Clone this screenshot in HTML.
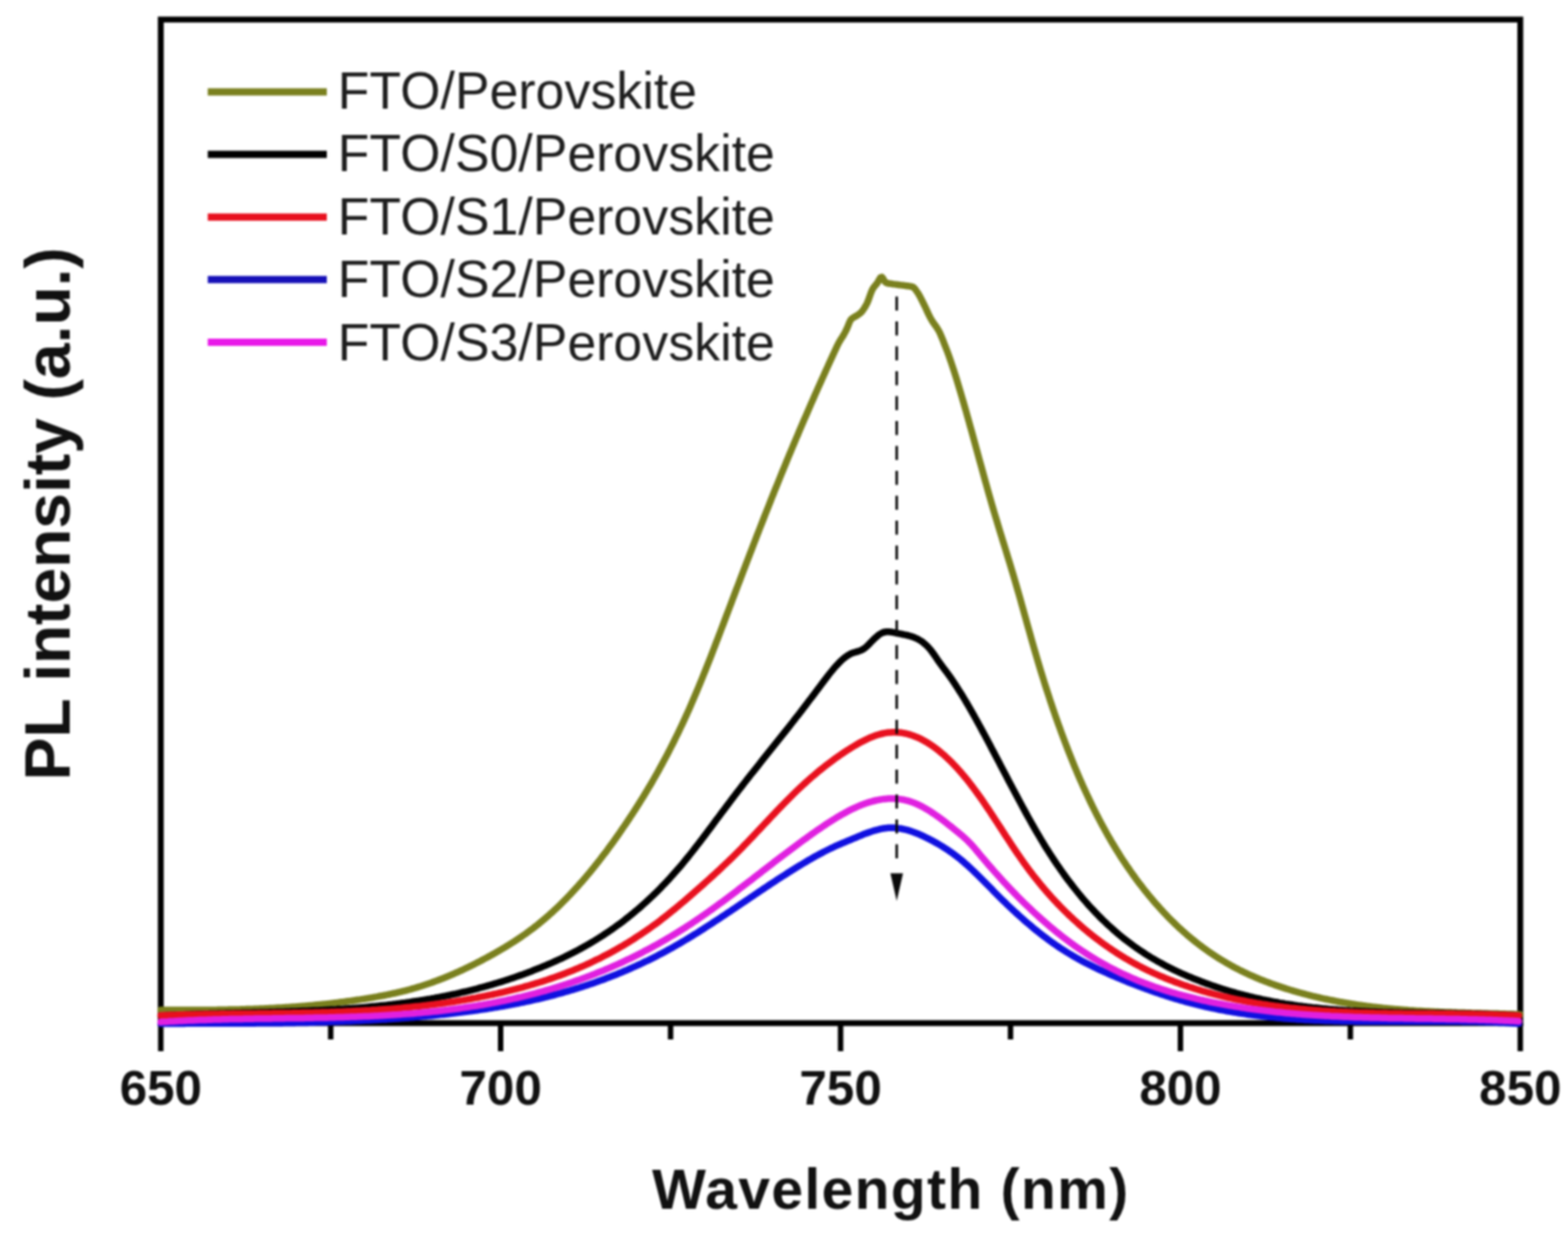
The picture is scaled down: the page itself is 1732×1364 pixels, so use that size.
<!DOCTYPE html>
<html><head><meta charset="utf-8"><title>PL spectra</title>
<style>
html,body{margin:0;padding:0;background:#fff;}
body{width:1732px;height:1364px;overflow:hidden;}
svg{display:block;filter:blur(0.8px);}
.lab{font-family:"Liberation Sans",Arial,sans-serif;font-weight:bold;}
.leg{font-family:"Liberation Sans",Arial,sans-serif;font-weight:normal;}
</style></head>
<body>
<svg width="1732" height="1364" viewBox="0 0 1732 1364">
<rect x="0" y="0" width="1732" height="1364" fill="#fff"/>
<g stroke="#000" stroke-width="6.5" fill="none">
<rect x="177.6" y="21.6" width="1501.7" height="1108.4"/>
</g>
<g stroke="#000" stroke-width="6" stroke-linecap="butt">
<line x1="177.6" y1="1130.0" x2="177.6" y2="1161" />
<line x1="553.0" y1="1130.0" x2="553.0" y2="1161" />
<line x1="928.5" y1="1130.0" x2="928.5" y2="1161" />
<line x1="1303.9" y1="1130.0" x2="1303.9" y2="1161" />
<line x1="1679.3" y1="1130.0" x2="1679.3" y2="1161" />
<line x1="365.3" y1="1130.0" x2="365.3" y2="1148" />
<line x1="740.7" y1="1130.0" x2="740.7" y2="1148" />
<line x1="1116.2" y1="1130.0" x2="1116.2" y2="1148" />
<line x1="1491.6" y1="1130.0" x2="1491.6" y2="1148" />
</g>
<g>
<path d="M177.6,1115.5 L179.1,1115.5 L180.6,1115.5 L182.1,1115.5 L183.6,1115.5 L185.1,1115.5 L186.6,1115.5 L188.1,1115.5 L189.6,1115.6 L191.1,1115.6 L192.6,1115.6 L194.1,1115.6 L195.6,1115.6 L197.1,1115.6 L198.6,1115.6 L200.1,1115.6 L201.6,1115.6 L203.1,1115.6 L204.6,1115.6 L206.1,1115.6 L207.6,1115.6 L209.1,1115.6 L210.6,1115.6 L212.1,1115.6 L213.6,1115.6 L215.1,1115.5 L216.6,1115.5 L218.1,1115.5 L219.6,1115.5 L221.1,1115.5 L222.6,1115.5 L224.1,1115.5 L225.6,1115.5 L227.1,1115.5 L228.6,1115.5 L230.1,1115.5 L231.6,1115.4 L233.1,1115.4 L234.6,1115.4 L236.1,1115.4 L237.6,1115.4 L239.1,1115.4 L240.6,1115.3 L242.1,1115.3 L243.6,1115.3 L245.1,1115.3 L246.6,1115.2 L248.1,1115.2 L249.6,1115.2 L251.1,1115.2 L252.6,1115.1 L254.1,1115.1 L255.6,1115.1 L257.1,1115.0 L258.6,1115.0 L260.1,1115.0 L261.6,1114.9 L263.1,1114.9 L264.6,1114.9 L266.1,1114.8 L267.6,1114.8 L269.1,1114.7 L270.6,1114.7 L272.1,1114.6 L273.6,1114.6 L275.1,1114.5 L276.6,1114.5 L278.1,1114.4 L279.6,1114.4 L281.1,1114.3 L282.6,1114.3 L284.1,1114.2 L285.6,1114.2 L287.1,1114.1 L288.6,1114.0 L290.1,1114.0 L291.6,1113.9 L293.1,1113.8 L294.6,1113.8 L296.1,1113.7 L297.6,1113.6 L299.1,1113.5 L300.6,1113.5 L302.1,1113.4 L303.6,1113.3 L305.1,1113.2 L306.6,1113.1 L308.1,1113.1 L309.6,1113.0 L311.1,1112.9 L312.6,1112.8 L314.1,1112.7 L315.6,1112.6 L317.1,1112.5 L318.6,1112.4 L320.1,1112.3 L321.6,1112.2 L323.1,1112.1 L324.6,1112.0 L326.1,1111.9 L327.6,1111.8 L329.1,1111.7 L330.6,1111.5 L332.1,1111.4 L333.6,1111.3 L335.1,1111.2 L336.6,1111.1 L338.1,1110.9 L339.6,1110.8 L341.1,1110.7 L342.6,1110.5 L344.1,1110.4 L345.6,1110.3 L347.1,1110.1 L348.6,1110.0 L350.1,1109.8 L351.6,1109.7 L353.1,1109.5 L354.6,1109.4 L356.1,1109.2 L357.6,1109.1 L359.1,1108.9 L360.6,1108.8 L362.1,1108.6 L363.6,1108.4 L365.1,1108.3 L366.6,1108.1 L368.1,1107.9 L369.6,1107.7 L371.1,1107.6 L372.6,1107.4 L374.1,1107.2 L375.6,1107.0 L377.1,1106.8 L378.6,1106.6 L380.1,1106.4 L381.6,1106.2 L383.1,1106.0 L384.6,1105.8 L386.1,1105.6 L387.6,1105.4 L389.1,1105.2 L390.6,1105.0 L392.1,1104.8 L393.6,1104.5 L395.1,1104.3 L396.6,1104.1 L398.1,1103.9 L399.6,1103.6 L401.1,1103.4 L402.6,1103.2 L404.1,1102.9 L405.6,1102.7 L407.1,1102.4 L408.6,1102.2 L410.1,1101.9 L411.6,1101.7 L413.1,1101.4 L414.6,1101.1 L416.1,1100.9 L417.6,1100.6 L419.1,1100.3 L420.6,1100.0 L422.1,1099.8 L423.6,1099.5 L425.1,1099.2 L426.6,1098.9 L428.1,1098.6 L429.6,1098.3 L431.1,1098.0 L432.6,1097.6 L434.1,1097.3 L435.6,1097.0 L437.1,1096.7 L438.6,1096.3 L440.1,1096.0 L441.6,1095.6 L443.1,1095.3 L444.6,1094.9 L446.1,1094.5 L447.6,1094.2 L449.1,1093.8 L450.6,1093.4 L452.1,1093.0 L453.6,1092.6 L455.1,1092.1 L456.6,1091.7 L458.1,1091.3 L459.6,1090.8 L461.1,1090.4 L462.6,1089.9 L464.1,1089.5 L465.6,1089.0 L467.1,1088.5 L468.6,1088.0 L470.1,1087.5 L471.6,1087.0 L473.1,1086.5 L474.6,1086.0 L476.1,1085.5 L477.6,1084.9 L479.1,1084.4 L480.6,1083.8 L482.1,1083.3 L483.6,1082.7 L485.1,1082.1 L486.6,1081.6 L488.1,1081.0 L489.6,1080.4 L491.1,1079.8 L492.6,1079.2 L494.1,1078.6 L495.6,1077.9 L497.1,1077.3 L498.6,1076.7 L500.1,1076.0 L501.6,1075.4 L503.1,1074.7 L504.6,1074.0 L506.1,1073.4 L507.6,1072.7 L509.1,1072.0 L510.6,1071.3 L512.1,1070.6 L513.6,1069.9 L515.1,1069.2 L516.6,1068.5 L518.1,1067.7 L519.6,1067.0 L521.1,1066.3 L522.6,1065.5 L524.1,1064.8 L525.6,1064.0 L527.1,1063.2 L528.6,1062.5 L530.1,1061.7 L531.6,1060.9 L533.1,1060.1 L534.6,1059.3 L536.1,1058.5 L537.6,1057.7 L539.1,1056.9 L540.6,1056.1 L542.1,1055.2 L543.6,1054.4 L545.1,1053.6 L546.6,1052.7 L548.1,1051.9 L549.6,1051.0 L551.1,1050.1 L552.6,1049.3 L554.1,1048.4 L555.6,1047.5 L557.1,1046.6 L558.6,1045.7 L560.1,1044.8 L561.6,1043.9 L563.1,1042.9 L564.6,1042.0 L566.1,1041.0 L567.6,1040.1 L569.1,1039.1 L570.6,1038.1 L572.1,1037.1 L573.6,1036.1 L575.1,1035.1 L576.6,1034.1 L578.1,1033.0 L579.6,1032.0 L581.1,1030.9 L582.6,1029.8 L584.1,1028.7 L585.6,1027.6 L587.1,1026.5 L588.6,1025.4 L590.1,1024.2 L591.6,1023.0 L593.1,1021.9 L594.6,1020.7 L596.1,1019.5 L597.6,1018.2 L599.1,1017.0 L600.6,1015.7 L602.1,1014.5 L603.6,1013.2 L605.1,1011.9 L606.6,1010.5 L608.1,1009.2 L609.6,1007.9 L611.1,1006.5 L612.6,1005.1 L614.1,1003.7 L615.6,1002.3 L617.1,1000.8 L618.6,999.4 L620.1,997.9 L621.6,996.4 L623.1,994.9 L624.6,993.4 L626.1,991.9 L627.6,990.3 L629.1,988.7 L630.6,987.1 L632.1,985.5 L633.6,983.9 L635.1,982.3 L636.6,980.6 L638.1,979.0 L639.6,977.3 L641.1,975.6 L642.6,973.9 L644.1,972.2 L645.6,970.4 L647.1,968.7 L648.6,966.9 L650.1,965.1 L651.6,963.3 L653.1,961.5 L654.6,959.6 L656.1,957.8 L657.6,955.9 L659.1,954.0 L660.6,952.1 L662.1,950.2 L663.6,948.3 L665.1,946.3 L666.6,944.3 L668.1,942.4 L669.6,940.4 L671.1,938.4 L672.6,936.3 L674.1,934.3 L675.6,932.2 L677.1,930.2 L678.6,928.1 L680.1,926.0 L681.6,923.8 L683.1,921.7 L684.6,919.6 L686.1,917.4 L687.6,915.2 L689.1,913.0 L690.6,910.8 L692.1,908.6 L693.6,906.4 L695.1,904.1 L696.6,901.8 L698.1,899.6 L699.6,897.3 L701.1,894.9 L702.6,892.6 L704.1,890.2 L705.6,887.9 L707.1,885.5 L708.6,883.1 L710.1,880.7 L711.6,878.2 L713.1,875.7 L714.6,873.3 L716.1,870.7 L717.6,868.2 L719.1,865.7 L720.6,863.1 L722.1,860.5 L723.6,857.9 L725.1,855.2 L726.6,852.6 L728.1,849.9 L729.6,847.1 L731.1,844.4 L732.6,841.6 L734.1,838.8 L735.6,836.0 L737.1,833.2 L738.6,830.3 L740.1,827.4 L741.6,824.4 L743.1,821.5 L744.6,818.5 L746.1,815.4 L747.6,812.4 L749.1,809.3 L750.6,806.2 L752.1,803.0 L753.6,799.8 L755.1,796.6 L756.6,793.4 L758.1,790.1 L759.6,786.8 L761.1,783.4 L762.6,780.0 L764.1,776.6 L765.6,773.1 L767.1,769.6 L768.6,766.1 L770.1,762.5 L771.6,758.9 L773.1,755.3 L774.6,751.6 L776.1,747.9 L777.6,744.2 L779.1,740.5 L780.6,736.7 L782.1,732.9 L783.6,729.1 L785.1,725.3 L786.6,721.4 L788.1,717.5 L789.6,713.6 L791.1,709.7 L792.6,705.8 L794.1,701.9 L795.6,698.0 L797.1,694.0 L798.6,690.1 L800.1,686.1 L801.6,682.1 L803.1,678.2 L804.6,674.2 L806.1,670.2 L807.6,666.3 L809.1,662.3 L810.6,658.4 L812.1,654.4 L813.6,650.4 L815.1,646.5 L816.6,642.6 L818.1,638.6 L819.6,634.7 L821.1,630.7 L822.6,626.8 L824.1,622.9 L825.6,619.0 L827.1,615.1 L828.6,611.2 L830.1,607.3 L831.6,603.4 L833.1,599.5 L834.6,595.6 L836.1,591.7 L837.6,587.9 L839.1,584.0 L840.6,580.2 L842.1,576.3 L843.6,572.5 L845.1,568.7 L846.6,564.9 L848.1,561.1 L849.6,557.3 L851.1,553.5 L852.6,549.7 L854.1,546.0 L855.6,542.2 L857.1,538.5 L858.6,534.8 L860.1,531.1 L861.6,527.4 L863.1,523.7 L864.6,520.0 L866.1,516.3 L867.6,512.7 L869.1,509.0 L870.6,505.4 L872.1,501.8 L873.6,498.2 L875.1,494.6 L876.6,491.0 L878.1,487.5 L879.6,483.9 L881.1,480.4 L882.6,476.8 L884.1,473.3 L885.6,469.8 L887.1,466.3 L888.6,462.8 L890.1,459.4 L891.6,455.9 L893.1,452.4 L894.6,449.0 L896.1,445.6 L897.6,442.2 L899.1,438.7 L900.6,435.3 L902.1,432.0 L903.6,428.6 L905.1,425.2 L906.6,421.9 L908.1,418.5 L909.6,415.2 L911.1,411.9 L912.6,408.5 L914.1,405.2 L915.6,401.9 L917.1,398.7 L918.6,395.4 L920.1,392.1 L921.6,388.9 L923.1,385.6 L924.6,382.4 L926.1,379.3 L927.6,376.7 L929.1,374.3 L930.6,372.0 L932.1,369.5 L933.6,366.8 L935.1,363.8 L936.6,360.2 L938.1,356.4 L939.6,353.4 L941.1,351.8 L942.6,350.7 L944.1,349.9 L945.6,349.1 L947.1,348.1 L948.6,347.1 L950.1,346.0 L951.6,344.6 L953.1,342.7 L954.6,340.5 L956.1,338.0 L957.6,335.3 L959.1,331.7 L960.6,327.4 L962.1,323.2 L963.6,319.7 L965.1,317.4 L966.6,315.5 L968.1,313.8 L969.6,311.6 L971.1,308.9 L972.6,306.5 L974.1,306.0 L975.6,307.9 L977.1,310.7 L978.6,312.2 L980.1,312.7 L981.6,313.0 L983.1,313.2 L984.6,313.4 L986.1,313.7 L987.6,313.9 L989.1,314.1 L990.6,314.3 L992.1,314.5 L993.6,314.7 L995.1,314.9 L996.6,315.1 L998.1,315.2 L999.6,315.4 L1001.1,315.7 L1002.6,315.8 L1004.1,316.1 L1005.6,316.3 L1007.1,316.6 L1008.6,317.1 L1010.1,318.4 L1011.6,320.3 L1013.1,322.5 L1014.6,324.7 L1016.1,327.4 L1017.6,330.3 L1019.1,333.2 L1020.6,336.2 L1022.1,339.3 L1023.6,342.6 L1025.1,345.8 L1026.6,349.0 L1028.1,351.9 L1029.6,354.4 L1031.1,356.6 L1032.6,358.7 L1034.1,360.8 L1035.6,363.1 L1037.1,365.6 L1038.6,368.7 L1040.1,372.2 L1041.6,375.9 L1043.1,379.8 L1044.6,383.6 L1046.1,387.5 L1047.6,391.5 L1049.1,395.7 L1050.6,400.1 L1052.1,404.6 L1053.6,409.2 L1055.1,413.9 L1056.6,418.7 L1058.1,423.6 L1059.6,428.6 L1061.1,433.6 L1062.6,438.7 L1064.1,443.9 L1065.6,449.1 L1067.1,454.3 L1068.6,459.7 L1070.1,465.0 L1071.6,470.4 L1073.1,475.8 L1074.6,481.3 L1076.1,486.7 L1077.6,492.2 L1079.1,497.7 L1080.6,503.2 L1082.1,508.7 L1083.6,514.1 L1085.1,519.6 L1086.6,525.0 L1088.1,530.5 L1089.6,535.8 L1091.1,541.2 L1092.6,546.5 L1094.1,551.8 L1095.6,557.0 L1097.1,562.1 L1098.6,567.2 L1100.1,572.2 L1101.6,577.2 L1103.1,582.2 L1104.6,587.1 L1106.1,591.9 L1107.6,596.8 L1109.1,601.7 L1110.6,606.5 L1112.1,611.4 L1113.6,616.3 L1115.1,621.2 L1116.6,626.1 L1118.1,631.1 L1119.6,636.1 L1121.1,641.2 L1122.6,646.4 L1124.1,651.6 L1125.6,656.8 L1127.1,662.1 L1128.6,667.5 L1130.1,672.8 L1131.6,678.2 L1133.1,683.6 L1134.6,688.9 L1136.1,694.3 L1137.6,699.6 L1139.1,705.0 L1140.6,710.2 L1142.1,715.5 L1143.6,720.6 L1145.1,725.8 L1146.6,730.8 L1148.1,735.8 L1149.6,740.8 L1151.1,745.7 L1152.6,750.5 L1154.1,755.3 L1155.6,760.0 L1157.1,764.6 L1158.6,769.2 L1160.1,773.8 L1161.6,778.3 L1163.1,782.7 L1164.6,787.1 L1166.1,791.4 L1167.6,795.7 L1169.1,799.9 L1170.6,804.1 L1172.1,808.2 L1173.6,812.3 L1175.1,816.3 L1176.6,820.3 L1178.1,824.2 L1179.6,828.1 L1181.1,831.9 L1182.6,835.7 L1184.1,839.4 L1185.6,843.1 L1187.1,846.8 L1188.6,850.4 L1190.1,853.9 L1191.6,857.4 L1193.1,860.9 L1194.6,864.3 L1196.1,867.7 L1197.6,871.0 L1199.1,874.3 L1200.6,877.5 L1202.1,880.7 L1203.6,883.9 L1205.1,887.0 L1206.6,890.1 L1208.1,893.1 L1209.6,896.1 L1211.1,899.1 L1212.6,902.0 L1214.1,904.9 L1215.6,907.7 L1217.1,910.6 L1218.6,913.3 L1220.1,916.1 L1221.6,918.8 L1223.1,921.5 L1224.6,924.1 L1226.1,926.7 L1227.6,929.3 L1229.1,931.8 L1230.6,934.3 L1232.1,936.8 L1233.6,939.2 L1235.1,941.6 L1236.6,944.0 L1238.1,946.4 L1239.6,948.7 L1241.1,951.0 L1242.6,953.2 L1244.1,955.5 L1245.6,957.7 L1247.1,959.8 L1248.6,962.0 L1250.1,964.1 L1251.6,966.2 L1253.1,968.3 L1254.6,970.4 L1256.1,972.4 L1257.6,974.4 L1259.1,976.4 L1260.6,978.3 L1262.1,980.3 L1263.6,982.2 L1265.1,984.1 L1266.6,985.9 L1268.1,987.8 L1269.6,989.6 L1271.1,991.4 L1272.6,993.2 L1274.1,995.0 L1275.6,996.7 L1277.1,998.4 L1278.6,1000.1 L1280.1,1001.8 L1281.6,1003.5 L1283.1,1005.1 L1284.6,1006.8 L1286.1,1008.4 L1287.6,1009.9 L1289.1,1011.5 L1290.6,1013.1 L1292.1,1014.6 L1293.6,1016.1 L1295.1,1017.6 L1296.6,1019.0 L1298.1,1020.5 L1299.6,1021.9 L1301.1,1023.4 L1302.6,1024.8 L1304.1,1026.1 L1305.6,1027.5 L1307.1,1028.8 L1308.6,1030.2 L1310.1,1031.5 L1311.6,1032.8 L1313.1,1034.1 L1314.6,1035.3 L1316.1,1036.6 L1317.6,1037.8 L1319.1,1039.0 L1320.6,1040.2 L1322.1,1041.4 L1323.6,1042.6 L1325.1,1043.7 L1326.6,1044.8 L1328.1,1046.0 L1329.6,1047.1 L1331.1,1048.2 L1332.6,1049.2 L1334.1,1050.3 L1335.6,1051.3 L1337.1,1052.4 L1338.6,1053.4 L1340.1,1054.4 L1341.6,1055.4 L1343.1,1056.4 L1344.6,1057.3 L1346.1,1058.3 L1347.6,1059.2 L1349.1,1060.1 L1350.6,1061.0 L1352.1,1061.9 L1353.6,1062.8 L1355.1,1063.7 L1356.6,1064.5 L1358.1,1065.4 L1359.6,1066.2 L1361.1,1067.1 L1362.6,1067.9 L1364.1,1068.7 L1365.6,1069.5 L1367.1,1070.2 L1368.6,1071.0 L1370.1,1071.8 L1371.6,1072.5 L1373.1,1073.2 L1374.6,1074.0 L1376.1,1074.7 L1377.6,1075.4 L1379.1,1076.1 L1380.6,1076.8 L1382.1,1077.4 L1383.6,1078.1 L1385.1,1078.7 L1386.6,1079.4 L1388.1,1080.0 L1389.6,1080.7 L1391.1,1081.3 L1392.6,1081.9 L1394.1,1082.5 L1395.6,1083.1 L1397.1,1083.7 L1398.6,1084.3 L1400.1,1084.8 L1401.6,1085.4 L1403.1,1085.9 L1404.6,1086.5 L1406.1,1087.0 L1407.6,1087.6 L1409.1,1088.1 L1410.6,1088.6 L1412.1,1089.1 L1413.6,1089.6 L1415.1,1090.1 L1416.6,1090.6 L1418.1,1091.1 L1419.6,1091.6 L1421.1,1092.1 L1422.6,1092.5 L1424.1,1093.0 L1425.6,1093.5 L1427.1,1093.9 L1428.6,1094.4 L1430.1,1094.8 L1431.6,1095.2 L1433.1,1095.7 L1434.6,1096.1 L1436.1,1096.5 L1437.6,1096.9 L1439.1,1097.3 L1440.6,1097.7 L1442.1,1098.1 L1443.6,1098.5 L1445.1,1098.9 L1446.6,1099.3 L1448.1,1099.7 L1449.6,1100.1 L1451.1,1100.4 L1452.6,1100.8 L1454.1,1101.1 L1455.6,1101.5 L1457.1,1101.8 L1458.6,1102.2 L1460.1,1102.5 L1461.6,1102.9 L1463.1,1103.2 L1464.6,1103.5 L1466.1,1103.8 L1467.6,1104.1 L1469.1,1104.4 L1470.6,1104.7 L1472.1,1105.0 L1473.6,1105.3 L1475.1,1105.6 L1476.6,1105.9 L1478.1,1106.2 L1479.6,1106.5 L1481.1,1106.7 L1482.6,1107.0 L1484.1,1107.3 L1485.6,1107.5 L1487.1,1107.8 L1488.6,1108.0 L1490.1,1108.3 L1491.6,1108.5 L1493.1,1108.8 L1494.6,1109.0 L1496.1,1109.2 L1497.6,1109.5 L1499.1,1109.7 L1500.6,1109.9 L1502.1,1110.1 L1503.6,1110.3 L1505.1,1110.6 L1506.6,1110.8 L1508.1,1111.0 L1509.6,1111.2 L1511.1,1111.4 L1512.6,1111.5 L1514.1,1111.7 L1515.6,1111.9 L1517.1,1112.1 L1518.6,1112.3 L1520.1,1112.5 L1521.6,1112.6 L1523.1,1112.8 L1524.6,1113.0 L1526.1,1113.1 L1527.6,1113.3 L1529.1,1113.4 L1530.6,1113.6 L1532.1,1113.7 L1533.6,1113.9 L1535.1,1114.0 L1536.6,1114.2 L1538.1,1114.3 L1539.6,1114.4 L1541.1,1114.6 L1542.6,1114.7 L1544.1,1114.8 L1545.6,1115.0 L1547.1,1115.1 L1548.6,1115.2 L1550.1,1115.3 L1551.6,1115.4 L1553.1,1115.5 L1554.6,1115.6 L1556.1,1115.8 L1557.6,1115.9 L1559.1,1116.0 L1560.6,1116.1 L1562.1,1116.2 L1563.6,1116.3 L1565.1,1116.4 L1566.6,1116.4 L1568.1,1116.5 L1569.6,1116.6 L1571.1,1116.7 L1572.6,1116.8 L1574.1,1116.9 L1575.6,1117.0 L1577.1,1117.0 L1578.6,1117.1 L1580.1,1117.2 L1581.6,1117.3 L1583.1,1117.3 L1584.6,1117.4 L1586.1,1117.5 L1587.6,1117.5 L1589.1,1117.6 L1590.6,1117.7 L1592.1,1117.7 L1593.6,1117.8 L1595.1,1117.9 L1596.6,1117.9 L1598.1,1118.0 L1599.6,1118.0 L1601.1,1118.1 L1602.6,1118.1 L1604.1,1118.2 L1605.6,1118.2 L1607.1,1118.3 L1608.6,1118.3 L1610.1,1118.4 L1611.6,1118.4 L1613.1,1118.5 L1614.6,1118.5 L1616.1,1118.6 L1617.6,1118.6 L1619.1,1118.7 L1620.6,1118.7 L1622.1,1118.8 L1623.6,1118.8 L1625.1,1118.8 L1626.6,1118.9 L1628.1,1118.9 L1629.6,1119.0 L1631.1,1119.0 L1632.6,1119.0 L1634.1,1119.1 L1635.6,1119.1 L1637.1,1119.2 L1638.6,1119.2 L1640.1,1119.2 L1641.6,1119.3 L1643.1,1119.3 L1644.6,1119.4 L1646.1,1119.4 L1647.6,1119.4 L1649.1,1119.5 L1650.6,1119.5 L1652.1,1119.6 L1653.6,1119.6 L1655.1,1119.6 L1656.6,1119.7 L1658.1,1119.7 L1659.6,1119.8 L1661.1,1119.8 L1662.6,1119.8 L1664.1,1119.9 L1665.6,1119.9 L1667.1,1120.0 L1668.6,1120.0 L1670.1,1120.1 L1671.6,1120.1 L1673.1,1120.2 L1674.6,1120.2 L1676.1,1120.3 L1677.6,1120.3 L1679.1,1120.4" fill="none" stroke="#7a801e" stroke-width="7.5" stroke-linejoin="round" stroke-linecap="round"/>
<path d="M177.6,1122.0 L179.6,1121.8 L181.6,1121.7 L183.6,1121.6 L185.6,1121.5 L187.6,1121.4 L189.6,1121.3 L191.6,1121.2 L193.6,1121.1 L195.6,1121.0 L197.6,1120.9 L199.6,1120.8 L201.6,1120.7 L203.6,1120.7 L205.6,1120.6 L207.6,1120.5 L209.6,1120.4 L211.6,1120.3 L213.6,1120.3 L215.6,1120.2 L217.6,1120.1 L219.6,1120.0 L221.6,1120.0 L223.6,1119.9 L225.6,1119.8 L227.6,1119.8 L229.6,1119.7 L231.6,1119.6 L233.6,1119.6 L235.6,1119.5 L237.6,1119.4 L239.6,1119.4 L241.6,1119.3 L243.6,1119.3 L245.6,1119.2 L247.6,1119.2 L249.6,1119.1 L251.6,1119.0 L253.6,1119.0 L255.6,1118.9 L257.6,1118.9 L259.6,1118.8 L261.6,1118.8 L263.6,1118.7 L265.6,1118.7 L267.6,1118.6 L269.6,1118.6 L271.6,1118.5 L273.6,1118.5 L275.6,1118.4 L277.6,1118.4 L279.6,1118.3 L281.6,1118.3 L283.6,1118.2 L285.6,1118.2 L287.6,1118.1 L289.6,1118.0 L291.6,1118.0 L293.6,1117.9 L295.6,1117.9 L297.6,1117.8 L299.6,1117.8 L301.6,1117.7 L303.6,1117.7 L305.6,1117.6 L307.6,1117.5 L309.6,1117.5 L311.6,1117.4 L313.6,1117.4 L315.6,1117.3 L317.6,1117.2 L319.6,1117.2 L321.6,1117.1 L323.6,1117.0 L325.6,1116.9 L327.6,1116.9 L329.6,1116.8 L331.6,1116.7 L333.6,1116.6 L335.6,1116.6 L337.6,1116.5 L339.6,1116.4 L341.6,1116.3 L343.6,1116.2 L345.6,1116.1 L347.6,1116.0 L349.6,1116.0 L351.6,1115.9 L353.6,1115.8 L355.6,1115.7 L357.6,1115.6 L359.6,1115.5 L361.6,1115.3 L363.6,1115.2 L365.6,1115.1 L367.6,1115.0 L369.6,1114.9 L371.6,1114.8 L373.6,1114.6 L375.6,1114.5 L377.6,1114.4 L379.6,1114.2 L381.6,1114.1 L383.6,1114.0 L385.6,1113.8 L387.6,1113.7 L389.6,1113.5 L391.6,1113.4 L393.6,1113.2 L395.6,1113.1 L397.6,1112.9 L399.6,1112.7 L401.6,1112.6 L403.6,1112.4 L405.6,1112.2 L407.6,1112.0 L409.6,1111.8 L411.6,1111.6 L413.6,1111.5 L415.6,1111.3 L417.6,1111.1 L419.6,1110.8 L421.6,1110.6 L423.6,1110.4 L425.6,1110.2 L427.6,1110.0 L429.6,1109.7 L431.6,1109.5 L433.6,1109.3 L435.6,1109.0 L437.6,1108.8 L439.6,1108.5 L441.6,1108.3 L443.6,1108.0 L445.6,1107.7 L447.6,1107.5 L449.6,1107.2 L451.6,1106.9 L453.6,1106.6 L455.6,1106.3 L457.6,1106.0 L459.6,1105.7 L461.6,1105.4 L463.6,1105.1 L465.6,1104.8 L467.6,1104.5 L469.6,1104.1 L471.6,1103.8 L473.6,1103.4 L475.6,1103.1 L477.6,1102.7 L479.6,1102.4 L481.6,1102.0 L483.6,1101.6 L485.6,1101.3 L487.6,1100.9 L489.6,1100.5 L491.6,1100.1 L493.6,1099.7 L495.6,1099.3 L497.6,1098.8 L499.6,1098.4 L501.6,1098.0 L503.6,1097.6 L505.6,1097.1 L507.6,1096.7 L509.6,1096.2 L511.6,1095.7 L513.6,1095.3 L515.6,1094.8 L517.6,1094.3 L519.6,1093.8 L521.6,1093.3 L523.6,1092.8 L525.6,1092.3 L527.6,1091.8 L529.6,1091.2 L531.6,1090.7 L533.6,1090.2 L535.6,1089.6 L537.6,1089.0 L539.6,1088.5 L541.6,1087.9 L543.6,1087.3 L545.6,1086.7 L547.6,1086.1 L549.6,1085.5 L551.6,1084.9 L553.6,1084.3 L555.6,1083.7 L557.6,1083.0 L559.6,1082.4 L561.6,1081.7 L563.6,1081.0 L565.6,1080.4 L567.6,1079.7 L569.6,1079.0 L571.6,1078.3 L573.6,1077.6 L575.6,1076.9 L577.6,1076.2 L579.6,1075.4 L581.6,1074.7 L583.6,1073.9 L585.6,1073.2 L587.6,1072.4 L589.6,1071.6 L591.6,1070.8 L593.6,1070.0 L595.6,1069.2 L597.6,1068.4 L599.6,1067.6 L601.6,1066.7 L603.6,1065.9 L605.6,1065.0 L607.6,1064.2 L609.6,1063.3 L611.6,1062.4 L613.6,1061.5 L615.6,1060.6 L617.6,1059.7 L619.6,1058.8 L621.6,1057.8 L623.6,1056.9 L625.6,1055.9 L627.6,1054.9 L629.6,1053.9 L631.6,1052.9 L633.6,1051.9 L635.6,1050.8 L637.6,1049.8 L639.6,1048.7 L641.6,1047.6 L643.6,1046.5 L645.6,1045.4 L647.6,1044.3 L649.6,1043.1 L651.6,1042.0 L653.6,1040.8 L655.6,1039.6 L657.6,1038.4 L659.6,1037.1 L661.6,1035.9 L663.6,1034.6 L665.6,1033.3 L667.6,1032.0 L669.6,1030.7 L671.6,1029.4 L673.6,1028.0 L675.6,1026.6 L677.6,1025.2 L679.6,1023.8 L681.6,1022.3 L683.6,1020.9 L685.6,1019.4 L687.6,1017.9 L689.6,1016.4 L691.6,1014.8 L693.6,1013.2 L695.6,1011.6 L697.6,1010.0 L699.6,1008.4 L701.6,1006.7 L703.6,1005.0 L705.6,1003.3 L707.6,1001.6 L709.6,999.8 L711.6,998.0 L713.6,996.2 L715.6,994.4 L717.6,992.5 L719.6,990.6 L721.6,988.7 L723.6,986.8 L725.6,984.8 L727.6,982.8 L729.6,980.8 L731.6,978.7 L733.6,976.7 L735.6,974.6 L737.6,972.4 L739.6,970.3 L741.6,968.1 L743.6,965.8 L745.6,963.6 L747.6,961.3 L749.6,959.0 L751.6,956.7 L753.6,954.3 L755.6,951.9 L757.6,949.4 L759.6,947.0 L761.6,944.5 L763.6,942.0 L765.6,939.5 L767.6,936.9 L769.6,934.3 L771.6,931.7 L773.6,929.1 L775.6,926.5 L777.6,923.9 L779.6,921.2 L781.6,918.5 L783.6,915.9 L785.6,913.2 L787.6,910.5 L789.6,907.8 L791.6,905.1 L793.6,902.5 L795.6,899.8 L797.6,897.1 L799.6,894.4 L801.6,891.7 L803.6,889.1 L805.6,886.4 L807.6,883.7 L809.6,881.1 L811.6,878.5 L813.6,875.9 L815.6,873.3 L817.6,870.7 L819.6,868.1 L821.6,865.5 L823.6,863.0 L825.6,860.4 L827.6,857.9 L829.6,855.3 L831.6,852.8 L833.6,850.3 L835.6,847.8 L837.6,845.3 L839.6,842.7 L841.6,840.2 L843.6,837.7 L845.6,835.2 L847.6,832.7 L849.6,830.2 L851.6,827.7 L853.6,825.2 L855.6,822.7 L857.6,820.2 L859.6,817.7 L861.6,815.2 L863.6,812.7 L865.6,810.2 L867.6,807.6 L869.6,805.1 L871.6,802.6 L873.6,800.0 L875.6,797.5 L877.6,794.9 L879.6,792.3 L881.6,789.8 L883.6,787.2 L885.6,784.6 L887.6,782.0 L889.6,779.4 L891.6,776.8 L893.6,774.1 L895.6,771.5 L897.6,768.9 L899.6,766.2 L901.6,763.5 L903.6,760.9 L905.6,758.2 L907.6,755.5 L909.6,752.9 L911.6,750.2 L913.6,747.6 L915.6,745.0 L917.6,742.5 L919.6,740.1 L921.6,737.7 L923.6,735.4 L925.6,733.3 L927.6,731.2 L929.6,729.3 L931.6,727.5 L933.6,725.9 L935.6,724.5 L937.6,723.2 L939.6,722.1 L941.6,721.3 L943.6,720.6 L945.6,720.0 L947.6,719.5 L949.6,718.8 L951.6,718.0 L953.6,716.9 L955.6,715.5 L957.6,713.7 L959.6,711.8 L961.6,709.7 L963.6,707.7 L965.6,705.6 L967.6,703.8 L969.6,702.1 L971.6,700.6 L973.6,699.4 L975.6,698.5 L977.6,698.0 L979.6,697.7 L981.6,697.7 L983.6,697.9 L985.6,698.2 L987.6,698.6 L989.6,699.1 L991.6,699.5 L993.6,699.9 L995.6,700.3 L997.6,700.7 L999.6,701.1 L1001.6,701.5 L1003.6,702.0 L1005.6,702.6 L1007.6,703.2 L1009.6,703.9 L1011.6,704.8 L1013.6,705.7 L1015.6,706.9 L1017.6,708.1 L1019.6,709.6 L1021.6,711.2 L1023.6,713.0 L1025.6,715.1 L1027.6,717.4 L1029.6,720.0 L1031.6,722.8 L1033.6,725.7 L1035.6,728.7 L1037.6,731.5 L1039.6,734.3 L1041.6,737.0 L1043.6,739.6 L1045.6,742.3 L1047.6,745.0 L1049.6,747.8 L1051.6,750.7 L1053.6,753.6 L1055.6,756.6 L1057.6,759.7 L1059.6,762.9 L1061.6,766.1 L1063.6,769.3 L1065.6,772.6 L1067.6,776.0 L1069.6,779.4 L1071.6,782.9 L1073.6,786.4 L1075.6,789.9 L1077.6,793.5 L1079.6,797.1 L1081.6,800.8 L1083.6,804.4 L1085.6,808.1 L1087.6,811.8 L1089.6,815.6 L1091.6,819.3 L1093.6,823.1 L1095.6,826.9 L1097.6,830.6 L1099.6,834.4 L1101.6,838.3 L1103.6,842.1 L1105.6,845.9 L1107.6,849.7 L1109.6,853.5 L1111.6,857.3 L1113.6,861.2 L1115.6,865.0 L1117.6,868.8 L1119.6,872.5 L1121.6,876.3 L1123.6,880.1 L1125.6,883.8 L1127.6,887.5 L1129.6,891.2 L1131.6,894.9 L1133.6,898.6 L1135.6,902.2 L1137.6,905.8 L1139.6,909.3 L1141.6,912.9 L1143.6,916.4 L1145.6,919.8 L1147.6,923.2 L1149.6,926.6 L1151.6,929.9 L1153.6,933.2 L1155.6,936.4 L1157.6,939.6 L1159.6,942.7 L1161.6,945.8 L1163.6,948.9 L1165.6,951.9 L1167.6,954.8 L1169.6,957.7 L1171.6,960.6 L1173.6,963.4 L1175.6,966.2 L1177.6,969.0 L1179.6,971.7 L1181.6,974.3 L1183.6,976.9 L1185.6,979.5 L1187.6,982.0 L1189.6,984.5 L1191.6,987.0 L1193.6,989.4 L1195.6,991.8 L1197.6,994.1 L1199.6,996.4 L1201.6,998.7 L1203.6,1000.9 L1205.6,1003.1 L1207.6,1005.2 L1209.6,1007.3 L1211.6,1009.4 L1213.6,1011.5 L1215.6,1013.5 L1217.6,1015.5 L1219.6,1017.4 L1221.6,1019.3 L1223.6,1021.2 L1225.6,1023.0 L1227.6,1024.8 L1229.6,1026.6 L1231.6,1028.4 L1233.6,1030.1 L1235.6,1031.8 L1237.6,1033.5 L1239.6,1035.1 L1241.6,1036.7 L1243.6,1038.3 L1245.6,1039.8 L1247.6,1041.3 L1249.6,1042.8 L1251.6,1044.3 L1253.6,1045.7 L1255.6,1047.1 L1257.6,1048.5 L1259.6,1049.9 L1261.6,1051.2 L1263.6,1052.5 L1265.6,1053.8 L1267.6,1055.1 L1269.6,1056.3 L1271.6,1057.6 L1273.6,1058.8 L1275.6,1059.9 L1277.6,1061.1 L1279.6,1062.2 L1281.6,1063.3 L1283.6,1064.4 L1285.6,1065.5 L1287.6,1066.6 L1289.6,1067.6 L1291.6,1068.6 L1293.6,1069.6 L1295.6,1070.6 L1297.6,1071.6 L1299.6,1072.5 L1301.6,1073.5 L1303.6,1074.4 L1305.6,1075.3 L1307.6,1076.2 L1309.6,1077.1 L1311.6,1077.9 L1313.6,1078.8 L1315.6,1079.6 L1317.6,1080.4 L1319.6,1081.2 L1321.6,1082.0 L1323.6,1082.8 L1325.6,1083.6 L1327.6,1084.4 L1329.6,1085.1 L1331.6,1085.9 L1333.6,1086.6 L1335.6,1087.3 L1337.6,1088.0 L1339.6,1088.7 L1341.6,1089.4 L1343.6,1090.1 L1345.6,1090.7 L1347.6,1091.4 L1349.6,1092.0 L1351.6,1092.7 L1353.6,1093.3 L1355.6,1093.9 L1357.6,1094.5 L1359.6,1095.1 L1361.6,1095.7 L1363.6,1096.2 L1365.6,1096.8 L1367.6,1097.3 L1369.6,1097.9 L1371.6,1098.4 L1373.6,1098.9 L1375.6,1099.5 L1377.6,1100.0 L1379.6,1100.5 L1381.6,1100.9 L1383.6,1101.4 L1385.6,1101.9 L1387.6,1102.3 L1389.6,1102.8 L1391.6,1103.2 L1393.6,1103.7 L1395.6,1104.1 L1397.6,1104.5 L1399.6,1104.9 L1401.6,1105.3 L1403.6,1105.7 L1405.6,1106.1 L1407.6,1106.5 L1409.6,1106.8 L1411.6,1107.2 L1413.6,1107.6 L1415.6,1107.9 L1417.6,1108.2 L1419.6,1108.6 L1421.6,1108.9 L1423.6,1109.2 L1425.6,1109.5 L1427.6,1109.8 L1429.6,1110.1 L1431.6,1110.4 L1433.6,1110.7 L1435.6,1110.9 L1437.6,1111.2 L1439.6,1111.5 L1441.6,1111.7 L1443.6,1112.0 L1445.6,1112.2 L1447.6,1112.4 L1449.6,1112.7 L1451.6,1112.9 L1453.6,1113.1 L1455.6,1113.3 L1457.6,1113.5 L1459.6,1113.7 L1461.6,1113.9 L1463.6,1114.1 L1465.6,1114.3 L1467.6,1114.5 L1469.6,1114.7 L1471.6,1114.8 L1473.6,1115.0 L1475.6,1115.1 L1477.6,1115.3 L1479.6,1115.5 L1481.6,1115.6 L1483.6,1115.7 L1485.6,1115.9 L1487.6,1116.0 L1489.6,1116.1 L1491.6,1116.3 L1493.6,1116.4 L1495.6,1116.5 L1497.6,1116.6 L1499.6,1116.7 L1501.6,1116.8 L1503.6,1116.9 L1505.6,1117.0 L1507.6,1117.1 L1509.6,1117.2 L1511.6,1117.3 L1513.6,1117.4 L1515.6,1117.4 L1517.6,1117.5 L1519.6,1117.6 L1521.6,1117.7 L1523.6,1117.7 L1525.6,1117.8 L1527.6,1117.9 L1529.6,1117.9 L1531.6,1118.0 L1533.6,1118.0 L1535.6,1118.1 L1537.6,1118.1 L1539.6,1118.2 L1541.6,1118.2 L1543.6,1118.3 L1545.6,1118.3 L1547.6,1118.4 L1549.6,1118.4 L1551.6,1118.4 L1553.6,1118.5 L1555.6,1118.5 L1557.6,1118.6 L1559.6,1118.6 L1561.6,1118.6 L1563.6,1118.7 L1565.6,1118.7 L1567.6,1118.7 L1569.6,1118.7 L1571.6,1118.8 L1573.6,1118.8 L1575.6,1118.8 L1577.6,1118.9 L1579.6,1118.9 L1581.6,1118.9 L1583.6,1119.0 L1585.6,1119.0 L1587.6,1119.0 L1589.6,1119.0 L1591.6,1119.1 L1593.6,1119.1 L1595.6,1119.1 L1597.6,1119.2 L1599.6,1119.2 L1601.6,1119.2 L1603.6,1119.2 L1605.6,1119.3 L1607.6,1119.3 L1609.6,1119.4 L1611.6,1119.4 L1613.6,1119.4 L1615.6,1119.5 L1617.6,1119.5 L1619.6,1119.6 L1621.6,1119.6 L1623.6,1119.6 L1625.6,1119.7 L1627.6,1119.7 L1629.6,1119.8 L1631.6,1119.8 L1633.6,1119.9 L1635.6,1120.0 L1637.6,1120.0 L1639.6,1120.1 L1641.6,1120.2 L1643.6,1120.2 L1645.6,1120.3 L1647.6,1120.4 L1649.6,1120.4 L1651.6,1120.5 L1653.6,1120.6 L1655.6,1120.7 L1657.6,1120.8 L1659.6,1120.9 L1661.6,1121.0 L1663.6,1121.1 L1665.6,1121.2 L1667.6,1121.3 L1669.6,1121.4 L1671.6,1121.5 L1673.6,1121.6 L1675.6,1121.8 L1677.6,1121.9" fill="none" stroke="#000000" stroke-width="7.5" stroke-linejoin="round" stroke-linecap="round"/>
<path d="M177.6,1121.4 L179.6,1121.4 L181.6,1121.3 L183.6,1121.2 L185.6,1121.2 L187.6,1121.1 L189.6,1121.0 L191.6,1121.0 L193.6,1120.9 L195.6,1120.8 L197.6,1120.8 L199.6,1120.7 L201.6,1120.7 L203.6,1120.6 L205.6,1120.6 L207.6,1120.5 L209.6,1120.5 L211.6,1120.4 L213.6,1120.4 L215.6,1120.3 L217.6,1120.3 L219.6,1120.2 L221.6,1120.2 L223.6,1120.2 L225.6,1120.1 L227.6,1120.1 L229.6,1120.0 L231.6,1120.0 L233.6,1120.0 L235.6,1119.9 L237.6,1119.9 L239.6,1119.9 L241.6,1119.9 L243.6,1119.8 L245.6,1119.8 L247.6,1119.8 L249.6,1119.7 L251.6,1119.7 L253.6,1119.7 L255.6,1119.7 L257.6,1119.6 L259.6,1119.6 L261.6,1119.6 L263.6,1119.6 L265.6,1119.6 L267.6,1119.5 L269.6,1119.5 L271.6,1119.5 L273.6,1119.5 L275.6,1119.4 L277.6,1119.4 L279.6,1119.4 L281.6,1119.4 L283.6,1119.4 L285.6,1119.3 L287.6,1119.3 L289.6,1119.3 L291.6,1119.3 L293.6,1119.2 L295.6,1119.2 L297.6,1119.2 L299.6,1119.2 L301.6,1119.1 L303.6,1119.1 L305.6,1119.1 L307.6,1119.1 L309.6,1119.0 L311.6,1119.0 L313.6,1119.0 L315.6,1118.9 L317.6,1118.9 L319.6,1118.9 L321.6,1118.9 L323.6,1118.8 L325.6,1118.8 L327.6,1118.7 L329.6,1118.7 L331.6,1118.7 L333.6,1118.6 L335.6,1118.6 L337.6,1118.5 L339.6,1118.5 L341.6,1118.5 L343.6,1118.4 L345.6,1118.4 L347.6,1118.3 L349.6,1118.3 L351.6,1118.2 L353.6,1118.2 L355.6,1118.1 L357.6,1118.0 L359.6,1118.0 L361.6,1117.9 L363.6,1117.9 L365.6,1117.8 L367.6,1117.7 L369.6,1117.7 L371.6,1117.6 L373.6,1117.5 L375.6,1117.4 L377.6,1117.4 L379.6,1117.3 L381.6,1117.2 L383.6,1117.1 L385.6,1117.0 L387.6,1116.9 L389.6,1116.8 L391.6,1116.7 L393.6,1116.6 L395.6,1116.5 L397.6,1116.4 L399.6,1116.3 L401.6,1116.2 L403.6,1116.1 L405.6,1116.0 L407.6,1115.9 L409.6,1115.8 L411.6,1115.6 L413.6,1115.5 L415.6,1115.4 L417.6,1115.2 L419.6,1115.1 L421.6,1115.0 L423.6,1114.8 L425.6,1114.7 L427.6,1114.5 L429.6,1114.4 L431.6,1114.2 L433.6,1114.1 L435.6,1113.9 L437.6,1113.7 L439.6,1113.5 L441.6,1113.4 L443.6,1113.2 L445.6,1113.0 L447.6,1112.8 L449.6,1112.6 L451.6,1112.4 L453.6,1112.2 L455.6,1112.0 L457.6,1111.8 L459.6,1111.6 L461.6,1111.4 L463.6,1111.2 L465.6,1111.0 L467.6,1110.7 L469.6,1110.5 L471.6,1110.3 L473.6,1110.0 L475.6,1109.8 L477.6,1109.5 L479.6,1109.3 L481.6,1109.0 L483.6,1108.8 L485.6,1108.5 L487.6,1108.2 L489.6,1107.9 L491.6,1107.7 L493.6,1107.4 L495.6,1107.1 L497.6,1106.8 L499.6,1106.5 L501.6,1106.2 L503.6,1105.9 L505.6,1105.5 L507.6,1105.2 L509.6,1104.9 L511.6,1104.6 L513.6,1104.2 L515.6,1103.9 L517.6,1103.5 L519.6,1103.2 L521.6,1102.8 L523.6,1102.4 L525.6,1102.1 L527.6,1101.7 L529.6,1101.3 L531.6,1100.9 L533.6,1100.5 L535.6,1100.1 L537.6,1099.7 L539.6,1099.3 L541.6,1098.9 L543.6,1098.5 L545.6,1098.0 L547.6,1097.6 L549.6,1097.2 L551.6,1096.7 L553.6,1096.3 L555.6,1095.8 L557.6,1095.3 L559.6,1094.8 L561.6,1094.4 L563.6,1093.9 L565.6,1093.4 L567.6,1092.9 L569.6,1092.4 L571.6,1091.8 L573.6,1091.3 L575.6,1090.8 L577.6,1090.3 L579.6,1089.7 L581.6,1089.1 L583.6,1088.6 L585.6,1088.0 L587.6,1087.4 L589.6,1086.8 L591.6,1086.2 L593.6,1085.6 L595.6,1085.0 L597.6,1084.4 L599.6,1083.8 L601.6,1083.1 L603.6,1082.5 L605.6,1081.8 L607.6,1081.1 L609.6,1080.4 L611.6,1079.7 L613.6,1079.0 L615.6,1078.3 L617.6,1077.6 L619.6,1076.9 L621.6,1076.1 L623.6,1075.4 L625.6,1074.6 L627.6,1073.8 L629.6,1073.0 L631.6,1072.2 L633.6,1071.4 L635.6,1070.6 L637.6,1069.8 L639.6,1068.9 L641.6,1068.0 L643.6,1067.2 L645.6,1066.3 L647.6,1065.4 L649.6,1064.5 L651.6,1063.6 L653.6,1062.6 L655.6,1061.7 L657.6,1060.7 L659.6,1059.7 L661.6,1058.8 L663.6,1057.8 L665.6,1056.7 L667.6,1055.7 L669.6,1054.7 L671.6,1053.6 L673.6,1052.6 L675.6,1051.5 L677.6,1050.4 L679.6,1049.3 L681.6,1048.1 L683.6,1047.0 L685.6,1045.8 L687.6,1044.7 L689.6,1043.5 L691.6,1042.3 L693.6,1041.1 L695.6,1039.8 L697.6,1038.6 L699.6,1037.3 L701.6,1036.0 L703.6,1034.7 L705.6,1033.4 L707.6,1032.1 L709.6,1030.7 L711.6,1029.4 L713.6,1028.0 L715.6,1026.6 L717.6,1025.2 L719.6,1023.8 L721.6,1022.3 L723.6,1020.9 L725.6,1019.4 L727.6,1017.9 L729.6,1016.4 L731.6,1014.8 L733.6,1013.3 L735.6,1011.7 L737.6,1010.1 L739.6,1008.5 L741.6,1006.9 L743.6,1005.3 L745.6,1003.7 L747.6,1002.0 L749.6,1000.4 L751.6,998.7 L753.6,997.0 L755.6,995.3 L757.6,993.6 L759.6,991.9 L761.6,990.2 L763.6,988.4 L765.6,986.7 L767.6,984.9 L769.6,983.2 L771.6,981.4 L773.6,979.7 L775.6,977.9 L777.6,976.1 L779.6,974.3 L781.6,972.5 L783.6,970.7 L785.6,968.9 L787.6,967.1 L789.6,965.3 L791.6,963.4 L793.6,961.6 L795.6,959.7 L797.6,957.8 L799.6,955.9 L801.6,954.0 L803.6,952.1 L805.6,950.2 L807.6,948.3 L809.6,946.3 L811.6,944.3 L813.6,942.3 L815.6,940.3 L817.6,938.3 L819.6,936.3 L821.6,934.2 L823.6,932.1 L825.6,930.1 L827.6,928.0 L829.6,925.9 L831.6,923.8 L833.6,921.7 L835.6,919.5 L837.6,917.4 L839.6,915.3 L841.6,913.2 L843.6,911.0 L845.6,908.9 L847.6,906.8 L849.6,904.7 L851.6,902.5 L853.6,900.4 L855.6,898.3 L857.6,896.2 L859.6,894.1 L861.6,892.0 L863.6,890.0 L865.6,887.9 L867.6,885.9 L869.6,883.8 L871.6,881.8 L873.6,879.8 L875.6,877.8 L877.6,875.9 L879.6,873.9 L881.6,872.0 L883.6,870.1 L885.6,868.3 L887.6,866.4 L889.6,864.6 L891.6,862.8 L893.6,861.0 L895.6,859.2 L897.6,857.5 L899.6,855.8 L901.6,854.1 L903.6,852.4 L905.6,850.8 L907.6,849.2 L909.6,847.6 L911.6,846.0 L913.6,844.4 L915.6,842.9 L917.6,841.4 L919.6,839.9 L921.6,838.4 L923.6,837.0 L925.6,835.6 L927.6,834.2 L929.6,832.8 L931.6,831.5 L933.6,830.1 L935.6,828.8 L937.6,827.6 L939.6,826.3 L941.6,825.1 L943.6,823.9 L945.6,822.7 L947.6,821.5 L949.6,820.4 L951.6,819.3 L953.6,818.3 L955.6,817.3 L957.6,816.3 L959.6,815.4 L961.6,814.5 L963.6,813.7 L965.6,812.9 L967.6,812.2 L969.6,811.6 L971.6,811.0 L973.6,810.5 L975.6,810.0 L977.6,809.6 L979.6,809.3 L981.6,809.1 L983.6,808.9 L985.6,808.8 L987.6,808.7 L989.6,808.8 L991.6,808.9 L993.6,809.1 L995.6,809.3 L997.6,809.6 L999.6,810.0 L1001.6,810.4 L1003.6,811.0 L1005.6,811.5 L1007.6,812.2 L1009.6,812.9 L1011.6,813.7 L1013.6,814.5 L1015.6,815.4 L1017.6,816.4 L1019.6,817.5 L1021.6,818.6 L1023.6,819.7 L1025.6,821.0 L1027.6,822.2 L1029.6,823.6 L1031.6,825.0 L1033.6,826.5 L1035.6,828.0 L1037.6,829.6 L1039.6,831.3 L1041.6,833.0 L1043.6,834.7 L1045.6,836.6 L1047.6,838.5 L1049.6,840.4 L1051.6,842.4 L1053.6,844.5 L1055.6,846.6 L1057.6,848.8 L1059.6,851.0 L1061.6,853.3 L1063.6,855.6 L1065.6,858.0 L1067.6,860.4 L1069.6,862.9 L1071.6,865.5 L1073.6,868.1 L1075.6,870.7 L1077.6,873.4 L1079.6,876.2 L1081.6,879.0 L1083.6,881.8 L1085.6,884.7 L1087.6,887.6 L1089.6,890.6 L1091.6,893.5 L1093.6,896.5 L1095.6,899.6 L1097.6,902.6 L1099.6,905.7 L1101.6,908.8 L1103.6,911.8 L1105.6,914.9 L1107.6,918.0 L1109.6,921.1 L1111.6,924.2 L1113.6,927.2 L1115.6,930.3 L1117.6,933.3 L1119.6,936.3 L1121.6,939.3 L1123.6,942.3 L1125.6,945.2 L1127.6,948.1 L1129.6,950.9 L1131.6,953.8 L1133.6,956.5 L1135.6,959.2 L1137.6,961.9 L1139.6,964.6 L1141.6,967.2 L1143.6,969.7 L1145.6,972.2 L1147.6,974.7 L1149.6,977.1 L1151.6,979.5 L1153.6,981.9 L1155.6,984.2 L1157.6,986.5 L1159.6,988.8 L1161.6,991.0 L1163.6,993.2 L1165.6,995.3 L1167.6,997.5 L1169.6,999.5 L1171.6,1001.6 L1173.6,1003.6 L1175.6,1005.6 L1177.6,1007.6 L1179.6,1009.5 L1181.6,1011.5 L1183.6,1013.3 L1185.6,1015.2 L1187.6,1017.0 L1189.6,1018.8 L1191.6,1020.6 L1193.6,1022.4 L1195.6,1024.1 L1197.6,1025.8 L1199.6,1027.5 L1201.6,1029.1 L1203.6,1030.8 L1205.6,1032.4 L1207.6,1034.0 L1209.6,1035.5 L1211.6,1037.1 L1213.6,1038.6 L1215.6,1040.1 L1217.6,1041.5 L1219.6,1043.0 L1221.6,1044.4 L1223.6,1045.8 L1225.6,1047.2 L1227.6,1048.5 L1229.6,1049.9 L1231.6,1051.2 L1233.6,1052.5 L1235.6,1053.8 L1237.6,1055.0 L1239.6,1056.3 L1241.6,1057.5 L1243.6,1058.7 L1245.6,1059.8 L1247.6,1061.0 L1249.6,1062.1 L1251.6,1063.3 L1253.6,1064.4 L1255.6,1065.4 L1257.6,1066.5 L1259.6,1067.5 L1261.6,1068.6 L1263.6,1069.6 L1265.6,1070.6 L1267.6,1071.6 L1269.6,1072.5 L1271.6,1073.5 L1273.6,1074.4 L1275.6,1075.3 L1277.6,1076.2 L1279.6,1077.1 L1281.6,1078.0 L1283.6,1078.8 L1285.6,1079.6 L1287.6,1080.5 L1289.6,1081.3 L1291.6,1082.1 L1293.6,1082.8 L1295.6,1083.6 L1297.6,1084.4 L1299.6,1085.1 L1301.6,1085.8 L1303.6,1086.6 L1305.6,1087.3 L1307.6,1088.0 L1309.6,1088.6 L1311.6,1089.3 L1313.6,1090.0 L1315.6,1090.6 L1317.6,1091.2 L1319.6,1091.9 L1321.6,1092.5 L1323.6,1093.1 L1325.6,1093.7 L1327.6,1094.3 L1329.6,1094.8 L1331.6,1095.4 L1333.6,1096.0 L1335.6,1096.5 L1337.6,1097.0 L1339.6,1097.6 L1341.6,1098.1 L1343.6,1098.6 L1345.6,1099.1 L1347.6,1099.6 L1349.6,1100.1 L1351.6,1100.6 L1353.6,1101.0 L1355.6,1101.5 L1357.6,1102.0 L1359.6,1102.4 L1361.6,1102.8 L1363.6,1103.3 L1365.6,1103.7 L1367.6,1104.1 L1369.6,1104.5 L1371.6,1104.9 L1373.6,1105.3 L1375.6,1105.7 L1377.6,1106.1 L1379.6,1106.5 L1381.6,1106.8 L1383.6,1107.2 L1385.6,1107.5 L1387.6,1107.9 L1389.6,1108.2 L1391.6,1108.5 L1393.6,1108.9 L1395.6,1109.2 L1397.6,1109.5 L1399.6,1109.8 L1401.6,1110.1 L1403.6,1110.4 L1405.6,1110.7 L1407.6,1111.0 L1409.6,1111.2 L1411.6,1111.5 L1413.6,1111.8 L1415.6,1112.0 L1417.6,1112.3 L1419.6,1112.5 L1421.6,1112.7 L1423.6,1113.0 L1425.6,1113.2 L1427.6,1113.4 L1429.6,1113.6 L1431.6,1113.8 L1433.6,1114.1 L1435.6,1114.2 L1437.6,1114.4 L1439.6,1114.6 L1441.6,1114.8 L1443.6,1115.0 L1445.6,1115.2 L1447.6,1115.3 L1449.6,1115.5 L1451.6,1115.7 L1453.6,1115.8 L1455.6,1116.0 L1457.6,1116.1 L1459.6,1116.3 L1461.6,1116.4 L1463.6,1116.5 L1465.6,1116.7 L1467.6,1116.8 L1469.6,1116.9 L1471.6,1117.0 L1473.6,1117.1 L1475.6,1117.3 L1477.6,1117.4 L1479.6,1117.5 L1481.6,1117.6 L1483.6,1117.7 L1485.6,1117.8 L1487.6,1117.8 L1489.6,1117.9 L1491.6,1118.0 L1493.6,1118.1 L1495.6,1118.2 L1497.6,1118.2 L1499.6,1118.3 L1501.6,1118.4 L1503.6,1118.5 L1505.6,1118.5 L1507.6,1118.6 L1509.6,1118.6 L1511.6,1118.7 L1513.6,1118.7 L1515.6,1118.8 L1517.6,1118.8 L1519.6,1118.9 L1521.6,1118.9 L1523.6,1119.0 L1525.6,1119.0 L1527.6,1119.1 L1529.6,1119.1 L1531.6,1119.1 L1533.6,1119.2 L1535.6,1119.2 L1537.6,1119.2 L1539.6,1119.2 L1541.6,1119.3 L1543.6,1119.3 L1545.6,1119.3 L1547.6,1119.3 L1549.6,1119.4 L1551.6,1119.4 L1553.6,1119.4 L1555.6,1119.4 L1557.6,1119.4 L1559.6,1119.5 L1561.6,1119.5 L1563.6,1119.5 L1565.6,1119.5 L1567.6,1119.5 L1569.6,1119.5 L1571.6,1119.6 L1573.6,1119.6 L1575.6,1119.6 L1577.6,1119.6 L1579.6,1119.6 L1581.6,1119.6 L1583.6,1119.6 L1585.6,1119.7 L1587.6,1119.7 L1589.6,1119.7 L1591.6,1119.7 L1593.6,1119.7 L1595.6,1119.7 L1597.6,1119.8 L1599.6,1119.8 L1601.6,1119.8 L1603.6,1119.8 L1605.6,1119.8 L1607.6,1119.9 L1609.6,1119.9 L1611.6,1119.9 L1613.6,1119.9 L1615.6,1120.0 L1617.6,1120.0 L1619.6,1120.0 L1621.6,1120.0 L1623.6,1120.1 L1625.6,1120.1 L1627.6,1120.1 L1629.6,1120.2 L1631.6,1120.2 L1633.6,1120.3 L1635.6,1120.3 L1637.6,1120.3 L1639.6,1120.4 L1641.6,1120.4 L1643.6,1120.5 L1645.6,1120.5 L1647.6,1120.6 L1649.6,1120.7 L1651.6,1120.7 L1653.6,1120.8 L1655.6,1120.9 L1657.6,1120.9 L1659.6,1121.0 L1661.6,1121.1 L1663.6,1121.1 L1665.6,1121.2 L1667.6,1121.3 L1669.6,1121.4 L1671.6,1121.5 L1673.6,1121.6 L1675.6,1121.7 L1677.6,1121.8" fill="none" stroke="#e8101e" stroke-width="7.5" stroke-linejoin="round" stroke-linecap="round"/>
<path d="M177.6,1130.4 L179.6,1130.4 L181.6,1130.4 L183.6,1130.4 L185.6,1130.4 L187.6,1130.4 L189.6,1130.4 L191.6,1130.4 L193.6,1130.4 L195.6,1130.4 L197.6,1130.4 L199.6,1130.4 L201.6,1130.4 L203.6,1130.4 L205.6,1130.3 L207.6,1130.3 L209.6,1130.3 L211.6,1130.3 L213.6,1130.3 L215.6,1130.3 L217.6,1130.3 L219.6,1130.3 L221.6,1130.3 L223.6,1130.3 L225.6,1130.3 L227.6,1130.3 L229.6,1130.3 L231.6,1130.3 L233.6,1130.3 L235.6,1130.3 L237.6,1130.3 L239.6,1130.3 L241.6,1130.3 L243.6,1130.3 L245.6,1130.3 L247.6,1130.3 L249.6,1130.3 L251.6,1130.3 L253.6,1130.3 L255.6,1130.3 L257.6,1130.3 L259.6,1130.3 L261.6,1130.3 L263.6,1130.2 L265.6,1130.2 L267.6,1130.2 L269.6,1130.2 L271.6,1130.2 L273.6,1130.2 L275.6,1130.2 L277.6,1130.2 L279.6,1130.2 L281.6,1130.2 L283.6,1130.1 L285.6,1130.1 L287.6,1130.1 L289.6,1130.1 L291.6,1130.1 L293.6,1130.1 L295.6,1130.0 L297.6,1130.0 L299.6,1130.0 L301.6,1130.0 L303.6,1130.0 L305.6,1129.9 L307.6,1129.9 L309.6,1129.9 L311.6,1129.9 L313.6,1129.8 L315.6,1129.8 L317.6,1129.8 L319.6,1129.8 L321.6,1129.7 L323.6,1129.7 L325.6,1129.7 L327.6,1129.6 L329.6,1129.6 L331.6,1129.5 L333.6,1129.5 L335.6,1129.5 L337.6,1129.4 L339.6,1129.4 L341.6,1129.3 L343.6,1129.3 L345.6,1129.2 L347.6,1129.2 L349.6,1129.1 L351.6,1129.1 L353.6,1129.0 L355.6,1129.0 L357.6,1128.9 L359.6,1128.9 L361.6,1128.8 L363.6,1128.7 L365.6,1128.7 L367.6,1128.6 L369.6,1128.5 L371.6,1128.5 L373.6,1128.4 L375.6,1128.3 L377.6,1128.3 L379.6,1128.2 L381.6,1128.1 L383.6,1128.0 L385.6,1127.9 L387.6,1127.9 L389.6,1127.8 L391.6,1127.7 L393.6,1127.6 L395.6,1127.5 L397.6,1127.4 L399.6,1127.3 L401.6,1127.2 L403.6,1127.1 L405.6,1127.0 L407.6,1126.9 L409.6,1126.8 L411.6,1126.7 L413.6,1126.6 L415.6,1126.5 L417.6,1126.3 L419.6,1126.2 L421.6,1126.1 L423.6,1126.0 L425.6,1125.9 L427.6,1125.7 L429.6,1125.6 L431.6,1125.5 L433.6,1125.3 L435.6,1125.2 L437.6,1125.1 L439.6,1124.9 L441.6,1124.8 L443.6,1124.6 L445.6,1124.5 L447.6,1124.3 L449.6,1124.2 L451.6,1124.0 L453.6,1123.8 L455.6,1123.7 L457.6,1123.5 L459.6,1123.3 L461.6,1123.2 L463.6,1123.0 L465.6,1122.8 L467.6,1122.6 L469.6,1122.4 L471.6,1122.2 L473.6,1122.1 L475.6,1121.9 L477.6,1121.7 L479.6,1121.5 L481.6,1121.3 L483.6,1121.1 L485.6,1120.8 L487.6,1120.6 L489.6,1120.4 L491.6,1120.2 L493.6,1120.0 L495.6,1119.7 L497.6,1119.5 L499.6,1119.3 L501.6,1119.1 L503.6,1118.8 L505.6,1118.6 L507.6,1118.3 L509.6,1118.1 L511.6,1117.8 L513.6,1117.6 L515.6,1117.3 L517.6,1117.0 L519.6,1116.8 L521.6,1116.5 L523.6,1116.2 L525.6,1115.9 L527.6,1115.7 L529.6,1115.4 L531.6,1115.1 L533.6,1114.8 L535.6,1114.5 L537.6,1114.2 L539.6,1113.9 L541.6,1113.5 L543.6,1113.2 L545.6,1112.9 L547.6,1112.6 L549.6,1112.2 L551.6,1111.9 L553.6,1111.5 L555.6,1111.2 L557.6,1110.8 L559.6,1110.5 L561.6,1110.1 L563.6,1109.7 L565.6,1109.3 L567.6,1109.0 L569.6,1108.6 L571.6,1108.2 L573.6,1107.8 L575.6,1107.4 L577.6,1107.0 L579.6,1106.5 L581.6,1106.1 L583.6,1105.7 L585.6,1105.3 L587.6,1104.8 L589.6,1104.4 L591.6,1103.9 L593.6,1103.5 L595.6,1103.0 L597.6,1102.5 L599.6,1102.0 L601.6,1101.5 L603.6,1101.1 L605.6,1100.6 L607.6,1100.0 L609.6,1099.5 L611.6,1099.0 L613.6,1098.5 L615.6,1097.9 L617.6,1097.4 L619.6,1096.9 L621.6,1096.3 L623.6,1095.7 L625.6,1095.2 L627.6,1094.6 L629.6,1094.0 L631.6,1093.4 L633.6,1092.8 L635.6,1092.2 L637.6,1091.6 L639.6,1091.0 L641.6,1090.3 L643.6,1089.7 L645.6,1089.0 L647.6,1088.4 L649.6,1087.7 L651.6,1087.0 L653.6,1086.4 L655.6,1085.7 L657.6,1085.0 L659.6,1084.3 L661.6,1083.5 L663.6,1082.8 L665.6,1082.1 L667.6,1081.4 L669.6,1080.6 L671.6,1079.8 L673.6,1079.1 L675.6,1078.3 L677.6,1077.5 L679.6,1076.7 L681.6,1075.9 L683.6,1075.1 L685.6,1074.3 L687.6,1073.4 L689.6,1072.6 L691.6,1071.8 L693.6,1070.9 L695.6,1070.0 L697.6,1069.1 L699.6,1068.2 L701.6,1067.3 L703.6,1066.4 L705.6,1065.5 L707.6,1064.6 L709.6,1063.7 L711.6,1062.7 L713.6,1061.7 L715.6,1060.8 L717.6,1059.8 L719.6,1058.8 L721.6,1057.8 L723.6,1056.8 L725.6,1055.8 L727.6,1054.7 L729.6,1053.7 L731.6,1052.6 L733.6,1051.6 L735.6,1050.5 L737.6,1049.4 L739.6,1048.3 L741.6,1047.2 L743.6,1046.1 L745.6,1044.9 L747.6,1043.8 L749.6,1042.6 L751.6,1041.5 L753.6,1040.3 L755.6,1039.1 L757.6,1037.9 L759.6,1036.7 L761.6,1035.5 L763.6,1034.3 L765.6,1033.0 L767.6,1031.8 L769.6,1030.6 L771.6,1029.3 L773.6,1028.0 L775.6,1026.8 L777.6,1025.5 L779.6,1024.2 L781.6,1022.9 L783.6,1021.6 L785.6,1020.3 L787.6,1019.0 L789.6,1017.7 L791.6,1016.4 L793.6,1015.1 L795.6,1013.8 L797.6,1012.4 L799.6,1011.1 L801.6,1009.8 L803.6,1008.4 L805.6,1007.1 L807.6,1005.8 L809.6,1004.4 L811.6,1003.1 L813.6,1001.7 L815.6,1000.4 L817.6,999.0 L819.6,997.7 L821.6,996.3 L823.6,995.0 L825.6,993.6 L827.6,992.3 L829.6,990.9 L831.6,989.6 L833.6,988.2 L835.6,986.9 L837.6,985.5 L839.6,984.2 L841.6,982.8 L843.6,981.5 L845.6,980.2 L847.6,978.8 L849.6,977.5 L851.6,976.2 L853.6,974.9 L855.6,973.6 L857.6,972.2 L859.6,970.9 L861.6,969.6 L863.6,968.3 L865.6,967.1 L867.6,965.8 L869.6,964.5 L871.6,963.2 L873.6,962.0 L875.6,960.7 L877.6,959.5 L879.6,958.2 L881.6,957.0 L883.6,955.8 L885.6,954.6 L887.6,953.4 L889.6,952.2 L891.6,951.0 L893.6,949.8 L895.6,948.7 L897.6,947.5 L899.6,946.4 L901.6,945.3 L903.6,944.2 L905.6,943.1 L907.6,942.1 L909.6,941.0 L911.6,940.0 L913.6,939.0 L915.6,938.0 L917.6,937.0 L919.6,936.1 L921.6,935.2 L923.6,934.2 L925.6,933.3 L927.6,932.5 L929.6,931.6 L931.6,930.8 L933.6,929.9 L935.6,929.1 L937.6,928.2 L939.6,927.4 L941.6,926.6 L943.6,925.7 L945.6,924.9 L947.6,924.1 L949.6,923.2 L951.6,922.4 L953.6,921.6 L955.6,920.8 L957.6,920.1 L959.6,919.4 L961.6,918.7 L963.6,918.0 L965.6,917.4 L967.6,916.8 L969.6,916.3 L971.6,915.8 L973.6,915.4 L975.6,915.0 L977.6,914.7 L979.6,914.5 L981.6,914.3 L983.6,914.3 L985.6,914.2 L987.6,914.3 L989.6,914.4 L991.6,914.7 L993.6,914.9 L995.6,915.3 L997.6,915.7 L999.6,916.1 L1001.6,916.6 L1003.6,917.2 L1005.6,917.8 L1007.6,918.5 L1009.6,919.2 L1011.6,920.0 L1013.6,920.8 L1015.6,921.6 L1017.6,922.5 L1019.6,923.4 L1021.6,924.4 L1023.6,925.3 L1025.6,926.3 L1027.6,927.4 L1029.6,928.4 L1031.6,929.5 L1033.6,930.6 L1035.6,931.7 L1037.6,932.9 L1039.6,934.1 L1041.6,935.3 L1043.6,936.6 L1045.6,937.9 L1047.6,939.2 L1049.6,940.6 L1051.6,942.0 L1053.6,943.4 L1055.6,944.9 L1057.6,946.5 L1059.6,948.0 L1061.6,949.7 L1063.6,951.3 L1065.6,953.1 L1067.6,954.8 L1069.6,956.6 L1071.6,958.5 L1073.6,960.4 L1075.6,962.3 L1077.6,964.2 L1079.6,966.1 L1081.6,968.1 L1083.6,970.1 L1085.6,972.1 L1087.6,974.1 L1089.6,976.2 L1091.6,978.2 L1093.6,980.2 L1095.6,982.2 L1097.6,984.3 L1099.6,986.3 L1101.6,988.3 L1103.6,990.3 L1105.6,992.3 L1107.6,994.3 L1109.6,996.2 L1111.6,998.2 L1113.6,1000.1 L1115.6,1002.0 L1117.6,1003.9 L1119.6,1005.7 L1121.6,1007.6 L1123.6,1009.4 L1125.6,1011.2 L1127.6,1013.0 L1129.6,1014.8 L1131.6,1016.6 L1133.6,1018.3 L1135.6,1020.0 L1137.6,1021.7 L1139.6,1023.4 L1141.6,1025.1 L1143.6,1026.7 L1145.6,1028.3 L1147.6,1029.9 L1149.6,1031.5 L1151.6,1033.0 L1153.6,1034.6 L1155.6,1036.1 L1157.6,1037.6 L1159.6,1039.0 L1161.6,1040.5 L1163.6,1041.9 L1165.6,1043.3 L1167.6,1044.7 L1169.6,1046.0 L1171.6,1047.3 L1173.6,1048.6 L1175.6,1049.9 L1177.6,1051.2 L1179.6,1052.4 L1181.6,1053.6 L1183.6,1054.8 L1185.6,1056.0 L1187.6,1057.1 L1189.6,1058.3 L1191.6,1059.4 L1193.6,1060.5 L1195.6,1061.6 L1197.6,1062.6 L1199.6,1063.7 L1201.6,1064.7 L1203.6,1065.7 L1205.6,1066.7 L1207.6,1067.7 L1209.6,1068.7 L1211.6,1069.6 L1213.6,1070.6 L1215.6,1071.5 L1217.6,1072.4 L1219.6,1073.3 L1221.6,1074.2 L1223.6,1075.1 L1225.6,1076.0 L1227.6,1076.9 L1229.6,1077.7 L1231.6,1078.6 L1233.6,1079.4 L1235.6,1080.3 L1237.6,1081.1 L1239.6,1081.9 L1241.6,1082.8 L1243.6,1083.6 L1245.6,1084.4 L1247.6,1085.2 L1249.6,1086.0 L1251.6,1086.8 L1253.6,1087.5 L1255.6,1088.3 L1257.6,1089.1 L1259.6,1089.8 L1261.6,1090.6 L1263.6,1091.3 L1265.6,1092.1 L1267.6,1092.8 L1269.6,1093.5 L1271.6,1094.3 L1273.6,1095.0 L1275.6,1095.7 L1277.6,1096.3 L1279.6,1097.0 L1281.6,1097.7 L1283.6,1098.4 L1285.6,1099.0 L1287.6,1099.7 L1289.6,1100.3 L1291.6,1101.0 L1293.6,1101.6 L1295.6,1102.2 L1297.6,1102.8 L1299.6,1103.4 L1301.6,1104.0 L1303.6,1104.6 L1305.6,1105.2 L1307.6,1105.7 L1309.6,1106.3 L1311.6,1106.8 L1313.6,1107.3 L1315.6,1107.9 L1317.6,1108.4 L1319.6,1108.9 L1321.6,1109.4 L1323.6,1109.9 L1325.6,1110.4 L1327.6,1110.9 L1329.6,1111.3 L1331.6,1111.8 L1333.6,1112.2 L1335.6,1112.7 L1337.6,1113.1 L1339.6,1113.5 L1341.6,1113.9 L1343.6,1114.4 L1345.6,1114.8 L1347.6,1115.2 L1349.6,1115.5 L1351.6,1115.9 L1353.6,1116.3 L1355.6,1116.7 L1357.6,1117.0 L1359.6,1117.4 L1361.6,1117.7 L1363.6,1118.0 L1365.6,1118.4 L1367.6,1118.7 L1369.6,1119.0 L1371.6,1119.3 L1373.6,1119.6 L1375.6,1119.9 L1377.6,1120.2 L1379.6,1120.5 L1381.6,1120.8 L1383.6,1121.0 L1385.6,1121.3 L1387.6,1121.5 L1389.6,1121.8 L1391.6,1122.0 L1393.6,1122.3 L1395.6,1122.5 L1397.6,1122.7 L1399.6,1123.0 L1401.6,1123.2 L1403.6,1123.4 L1405.6,1123.6 L1407.6,1123.8 L1409.6,1124.0 L1411.6,1124.2 L1413.6,1124.3 L1415.6,1124.5 L1417.6,1124.7 L1419.6,1124.9 L1421.6,1125.0 L1423.6,1125.2 L1425.6,1125.3 L1427.6,1125.5 L1429.6,1125.6 L1431.6,1125.8 L1433.6,1125.9 L1435.6,1126.0 L1437.6,1126.1 L1439.6,1126.3 L1441.6,1126.4 L1443.6,1126.5 L1445.6,1126.6 L1447.6,1126.7 L1449.6,1126.8 L1451.6,1126.9 L1453.6,1127.0 L1455.6,1127.1 L1457.6,1127.1 L1459.6,1127.2 L1461.6,1127.3 L1463.6,1127.4 L1465.6,1127.4 L1467.6,1127.5 L1469.6,1127.6 L1471.6,1127.6 L1473.6,1127.7 L1475.6,1127.7 L1477.6,1127.8 L1479.6,1127.8 L1481.6,1127.9 L1483.6,1127.9 L1485.6,1128.0 L1487.6,1128.0 L1489.6,1128.0 L1491.6,1128.1 L1493.6,1128.1 L1495.6,1128.1 L1497.6,1128.2 L1499.6,1128.2 L1501.6,1128.2 L1503.6,1128.2 L1505.6,1128.2 L1507.6,1128.3 L1509.6,1128.3 L1511.6,1128.3 L1513.6,1128.3 L1515.6,1128.3 L1517.6,1128.3 L1519.6,1128.3 L1521.6,1128.3 L1523.6,1128.3 L1525.6,1128.3 L1527.6,1128.3 L1529.6,1128.3 L1531.6,1128.3 L1533.6,1128.3 L1535.6,1128.3 L1537.6,1128.3 L1539.6,1128.3 L1541.6,1128.3 L1543.6,1128.3 L1545.6,1128.3 L1547.6,1128.3 L1549.6,1128.3 L1551.6,1128.3 L1553.6,1128.3 L1555.6,1128.3 L1557.6,1128.3 L1559.6,1128.2 L1561.6,1128.2 L1563.6,1128.2 L1565.6,1128.2 L1567.6,1128.2 L1569.6,1128.2 L1571.6,1128.2 L1573.6,1128.2 L1575.6,1128.2 L1577.6,1128.2 L1579.6,1128.2 L1581.6,1128.2 L1583.6,1128.2 L1585.6,1128.2 L1587.6,1128.2 L1589.6,1128.2 L1591.6,1128.2 L1593.6,1128.2 L1595.6,1128.2 L1597.6,1128.2 L1599.6,1128.2 L1601.6,1128.2 L1603.6,1128.2 L1605.6,1128.3 L1607.6,1128.3 L1609.6,1128.3 L1611.6,1128.3 L1613.6,1128.3 L1615.6,1128.4 L1617.6,1128.4 L1619.6,1128.4 L1621.6,1128.4 L1623.6,1128.5 L1625.6,1128.5 L1627.6,1128.5 L1629.6,1128.6 L1631.6,1128.6 L1633.6,1128.7 L1635.6,1128.7 L1637.6,1128.8 L1639.6,1128.8 L1641.6,1128.9 L1643.6,1128.9 L1645.6,1129.0 L1647.6,1129.1 L1649.6,1129.1 L1651.6,1129.2 L1653.6,1129.3 L1655.6,1129.4 L1657.6,1129.5 L1659.6,1129.6 L1661.6,1129.6 L1663.6,1129.7 L1665.6,1129.8 L1667.6,1129.9 L1669.6,1130.1 L1671.6,1130.2 L1673.6,1130.3 L1675.6,1130.4 L1677.6,1130.5" fill="none" stroke="#1010e0" stroke-width="7.5" stroke-linejoin="round" stroke-linecap="round"/>
<path d="M177.6,1128.8 L179.6,1128.6 L181.6,1128.5 L183.6,1128.4 L185.6,1128.3 L187.6,1128.1 L189.6,1128.0 L191.6,1127.9 L193.6,1127.8 L195.6,1127.7 L197.6,1127.6 L199.6,1127.5 L201.6,1127.4 L203.6,1127.3 L205.6,1127.2 L207.6,1127.1 L209.6,1127.0 L211.6,1127.0 L213.6,1126.9 L215.6,1126.8 L217.6,1126.7 L219.6,1126.6 L221.6,1126.6 L223.6,1126.5 L225.6,1126.4 L227.6,1126.4 L229.6,1126.3 L231.6,1126.2 L233.6,1126.2 L235.6,1126.1 L237.6,1126.1 L239.6,1126.0 L241.6,1125.9 L243.6,1125.9 L245.6,1125.8 L247.6,1125.8 L249.6,1125.7 L251.6,1125.7 L253.6,1125.6 L255.6,1125.6 L257.6,1125.6 L259.6,1125.5 L261.6,1125.5 L263.6,1125.4 L265.6,1125.4 L267.6,1125.4 L269.6,1125.3 L271.6,1125.3 L273.6,1125.3 L275.6,1125.2 L277.6,1125.2 L279.6,1125.2 L281.6,1125.1 L283.6,1125.1 L285.6,1125.1 L287.6,1125.0 L289.6,1125.0 L291.6,1125.0 L293.6,1124.9 L295.6,1124.9 L297.6,1124.9 L299.6,1124.9 L301.6,1124.8 L303.6,1124.8 L305.6,1124.8 L307.6,1124.8 L309.6,1124.7 L311.6,1124.7 L313.6,1124.7 L315.6,1124.6 L317.6,1124.6 L319.6,1124.6 L321.6,1124.6 L323.6,1124.5 L325.6,1124.5 L327.6,1124.5 L329.6,1124.4 L331.6,1124.4 L333.6,1124.4 L335.6,1124.4 L337.6,1124.3 L339.6,1124.3 L341.6,1124.3 L343.6,1124.2 L345.6,1124.2 L347.6,1124.1 L349.6,1124.1 L351.6,1124.1 L353.6,1124.0 L355.6,1124.0 L357.6,1123.9 L359.6,1123.9 L361.6,1123.9 L363.6,1123.8 L365.6,1123.8 L367.6,1123.7 L369.6,1123.7 L371.6,1123.6 L373.6,1123.6 L375.6,1123.5 L377.6,1123.4 L379.6,1123.4 L381.6,1123.3 L383.6,1123.3 L385.6,1123.2 L387.6,1123.1 L389.6,1123.1 L391.6,1123.0 L393.6,1122.9 L395.6,1122.8 L397.6,1122.8 L399.6,1122.7 L401.6,1122.6 L403.6,1122.5 L405.6,1122.4 L407.6,1122.4 L409.6,1122.3 L411.6,1122.2 L413.6,1122.1 L415.6,1122.0 L417.6,1121.9 L419.6,1121.8 L421.6,1121.7 L423.6,1121.5 L425.6,1121.4 L427.6,1121.3 L429.6,1121.2 L431.6,1121.1 L433.6,1121.0 L435.6,1120.8 L437.6,1120.7 L439.6,1120.6 L441.6,1120.4 L443.6,1120.3 L445.6,1120.1 L447.6,1120.0 L449.6,1119.8 L451.6,1119.7 L453.6,1119.5 L455.6,1119.4 L457.6,1119.2 L459.6,1119.0 L461.6,1118.8 L463.6,1118.7 L465.6,1118.5 L467.6,1118.3 L469.6,1118.1 L471.6,1117.9 L473.6,1117.7 L475.6,1117.5 L477.6,1117.3 L479.6,1117.1 L481.6,1116.9 L483.6,1116.7 L485.6,1116.5 L487.6,1116.2 L489.6,1116.0 L491.6,1115.8 L493.6,1115.5 L495.6,1115.3 L497.6,1115.0 L499.6,1114.8 L501.6,1114.5 L503.6,1114.2 L505.6,1114.0 L507.6,1113.7 L509.6,1113.4 L511.6,1113.1 L513.6,1112.8 L515.6,1112.5 L517.6,1112.2 L519.6,1111.9 L521.6,1111.6 L523.6,1111.3 L525.6,1111.0 L527.6,1110.7 L529.6,1110.3 L531.6,1110.0 L533.6,1109.7 L535.6,1109.3 L537.6,1109.0 L539.6,1108.6 L541.6,1108.2 L543.6,1107.9 L545.6,1107.5 L547.6,1107.1 L549.6,1106.7 L551.6,1106.3 L553.6,1105.9 L555.6,1105.5 L557.6,1105.1 L559.6,1104.7 L561.6,1104.2 L563.6,1103.8 L565.6,1103.4 L567.6,1102.9 L569.6,1102.5 L571.6,1102.0 L573.6,1101.5 L575.6,1101.1 L577.6,1100.6 L579.6,1100.1 L581.6,1099.6 L583.6,1099.1 L585.6,1098.6 L587.6,1098.1 L589.6,1097.6 L591.6,1097.1 L593.6,1096.5 L595.6,1096.0 L597.6,1095.4 L599.6,1094.9 L601.6,1094.3 L603.6,1093.7 L605.6,1093.2 L607.6,1092.6 L609.6,1092.0 L611.6,1091.4 L613.6,1090.8 L615.6,1090.2 L617.6,1089.6 L619.6,1088.9 L621.6,1088.3 L623.6,1087.6 L625.6,1087.0 L627.6,1086.3 L629.6,1085.7 L631.6,1085.0 L633.6,1084.3 L635.6,1083.6 L637.6,1082.9 L639.6,1082.2 L641.6,1081.5 L643.6,1080.7 L645.6,1080.0 L647.6,1079.3 L649.6,1078.5 L651.6,1077.8 L653.6,1077.0 L655.6,1076.2 L657.6,1075.4 L659.6,1074.6 L661.6,1073.8 L663.6,1073.0 L665.6,1072.2 L667.6,1071.4 L669.6,1070.5 L671.6,1069.7 L673.6,1068.8 L675.6,1067.9 L677.6,1067.1 L679.6,1066.2 L681.6,1065.3 L683.6,1064.4 L685.6,1063.5 L687.6,1062.6 L689.6,1061.6 L691.6,1060.7 L693.6,1059.7 L695.6,1058.8 L697.6,1057.8 L699.6,1056.8 L701.6,1055.8 L703.6,1054.8 L705.6,1053.8 L707.6,1052.8 L709.6,1051.8 L711.6,1050.7 L713.6,1049.7 L715.6,1048.6 L717.6,1047.6 L719.6,1046.5 L721.6,1045.4 L723.6,1044.3 L725.6,1043.2 L727.6,1042.1 L729.6,1040.9 L731.6,1039.8 L733.6,1038.6 L735.6,1037.5 L737.6,1036.3 L739.6,1035.1 L741.6,1033.9 L743.6,1032.7 L745.6,1031.5 L747.6,1030.3 L749.6,1029.0 L751.6,1027.8 L753.6,1026.5 L755.6,1025.3 L757.6,1024.0 L759.6,1022.7 L761.6,1021.4 L763.6,1020.1 L765.6,1018.7 L767.6,1017.4 L769.6,1016.0 L771.6,1014.7 L773.6,1013.3 L775.6,1011.9 L777.6,1010.5 L779.6,1009.1 L781.6,1007.7 L783.6,1006.3 L785.6,1004.9 L787.6,1003.4 L789.6,1002.0 L791.6,1000.5 L793.6,999.1 L795.6,997.6 L797.6,996.2 L799.6,994.7 L801.6,993.2 L803.6,991.7 L805.6,990.2 L807.6,988.7 L809.6,987.2 L811.6,985.7 L813.6,984.2 L815.6,982.6 L817.6,981.1 L819.6,979.6 L821.6,978.0 L823.6,976.5 L825.6,975.0 L827.6,973.4 L829.6,971.9 L831.6,970.4 L833.6,968.8 L835.6,967.3 L837.6,965.7 L839.6,964.2 L841.6,962.6 L843.6,961.1 L845.6,959.5 L847.6,958.0 L849.6,956.5 L851.6,954.9 L853.6,953.4 L855.6,951.8 L857.6,950.3 L859.6,948.8 L861.6,947.3 L863.6,945.7 L865.6,944.2 L867.6,942.7 L869.6,941.2 L871.6,939.7 L873.6,938.2 L875.6,936.7 L877.6,935.2 L879.6,933.7 L881.6,932.2 L883.6,930.7 L885.6,929.3 L887.6,927.8 L889.6,926.4 L891.6,924.9 L893.6,923.5 L895.6,922.1 L897.6,920.6 L899.6,919.2 L901.6,917.8 L903.6,916.4 L905.6,915.1 L907.6,913.7 L909.6,912.3 L911.6,911.0 L913.6,909.7 L915.6,908.4 L917.6,907.1 L919.6,905.8 L921.6,904.6 L923.6,903.3 L925.6,902.1 L927.6,901.0 L929.6,899.8 L931.6,898.7 L933.6,897.6 L935.6,896.5 L937.6,895.4 L939.6,894.4 L941.6,893.4 L943.6,892.5 L945.6,891.6 L947.6,890.7 L949.6,889.8 L951.6,889.0 L953.6,888.3 L955.6,887.5 L957.6,886.8 L959.6,886.2 L961.6,885.6 L963.6,885.0 L965.6,884.5 L967.6,884.0 L969.6,883.6 L971.6,883.2 L973.6,882.9 L975.6,882.6 L977.6,882.4 L979.6,882.2 L981.6,882.1 L983.6,882.1 L985.6,882.0 L987.6,882.1 L989.6,882.2 L991.6,882.4 L993.6,882.6 L995.6,882.9 L997.6,883.2 L999.6,883.7 L1001.6,884.1 L1003.6,884.7 L1005.6,885.3 L1007.6,886.0 L1009.6,886.7 L1011.6,887.6 L1013.6,888.4 L1015.6,889.4 L1017.6,890.4 L1019.6,891.4 L1021.6,892.6 L1023.6,893.7 L1025.6,894.9 L1027.6,896.2 L1029.6,897.5 L1031.6,898.8 L1033.6,900.2 L1035.6,901.6 L1037.6,903.0 L1039.6,904.5 L1041.6,906.0 L1043.6,907.5 L1045.6,909.1 L1047.6,910.7 L1049.6,912.2 L1051.6,913.8 L1053.6,915.5 L1055.6,917.1 L1057.6,918.7 L1059.6,920.4 L1061.6,922.0 L1063.6,923.7 L1065.6,925.5 L1067.6,927.4 L1069.6,929.3 L1071.6,931.3 L1073.6,933.5 L1075.6,935.7 L1077.6,938.1 L1079.6,940.5 L1081.6,942.9 L1083.6,945.3 L1085.6,947.7 L1087.6,950.0 L1089.6,952.4 L1091.6,954.7 L1093.6,957.0 L1095.6,959.3 L1097.6,961.6 L1099.6,963.9 L1101.6,966.1 L1103.6,968.3 L1105.6,970.5 L1107.6,972.7 L1109.6,974.9 L1111.6,977.0 L1113.6,979.2 L1115.6,981.3 L1117.6,983.4 L1119.6,985.5 L1121.6,987.5 L1123.6,989.6 L1125.6,991.6 L1127.6,993.6 L1129.6,995.6 L1131.6,997.6 L1133.6,999.5 L1135.6,1001.4 L1137.6,1003.3 L1139.6,1005.2 L1141.6,1007.1 L1143.6,1009.0 L1145.6,1010.8 L1147.6,1012.6 L1149.6,1014.4 L1151.6,1016.2 L1153.6,1017.9 L1155.6,1019.7 L1157.6,1021.4 L1159.6,1023.1 L1161.6,1024.8 L1163.6,1026.4 L1165.6,1028.1 L1167.6,1029.7 L1169.6,1031.3 L1171.6,1032.9 L1173.6,1034.5 L1175.6,1036.0 L1177.6,1037.5 L1179.6,1039.0 L1181.6,1040.5 L1183.6,1042.0 L1185.6,1043.4 L1187.6,1044.9 L1189.6,1046.3 L1191.6,1047.6 L1193.6,1049.0 L1195.6,1050.4 L1197.6,1051.7 L1199.6,1053.0 L1201.6,1054.3 L1203.6,1055.5 L1205.6,1056.8 L1207.6,1058.0 L1209.6,1059.2 L1211.6,1060.4 L1213.6,1061.6 L1215.6,1062.7 L1217.6,1063.9 L1219.6,1065.0 L1221.6,1066.1 L1223.6,1067.2 L1225.6,1068.3 L1227.6,1069.3 L1229.6,1070.3 L1231.6,1071.4 L1233.6,1072.4 L1235.6,1073.3 L1237.6,1074.3 L1239.6,1075.3 L1241.6,1076.2 L1243.6,1077.1 L1245.6,1078.0 L1247.6,1078.9 L1249.6,1079.8 L1251.6,1080.7 L1253.6,1081.5 L1255.6,1082.4 L1257.6,1083.2 L1259.6,1084.0 L1261.6,1084.8 L1263.6,1085.6 L1265.6,1086.3 L1267.6,1087.1 L1269.6,1087.8 L1271.6,1088.5 L1273.6,1089.3 L1275.6,1090.0 L1277.6,1090.7 L1279.6,1091.3 L1281.6,1092.0 L1283.6,1092.7 L1285.6,1093.3 L1287.6,1093.9 L1289.6,1094.6 L1291.6,1095.2 L1293.6,1095.8 L1295.6,1096.4 L1297.6,1096.9 L1299.6,1097.5 L1301.6,1098.1 L1303.6,1098.6 L1305.6,1099.2 L1307.6,1099.7 L1309.6,1100.2 L1311.6,1100.7 L1313.6,1101.2 L1315.6,1101.7 L1317.6,1102.2 L1319.6,1102.7 L1321.6,1103.2 L1323.6,1103.6 L1325.6,1104.1 L1327.6,1104.5 L1329.6,1105.0 L1331.6,1105.4 L1333.6,1105.8 L1335.6,1106.3 L1337.6,1106.7 L1339.6,1107.1 L1341.6,1107.5 L1343.6,1107.9 L1345.6,1108.3 L1347.6,1108.6 L1349.6,1109.0 L1351.6,1109.4 L1353.6,1109.8 L1355.6,1110.1 L1357.6,1110.5 L1359.6,1110.8 L1361.6,1111.1 L1363.6,1111.5 L1365.6,1111.8 L1367.6,1112.1 L1369.6,1112.4 L1371.6,1112.8 L1373.6,1113.1 L1375.6,1113.4 L1377.6,1113.7 L1379.6,1113.9 L1381.6,1114.2 L1383.6,1114.5 L1385.6,1114.8 L1387.6,1115.0 L1389.6,1115.3 L1391.6,1115.6 L1393.6,1115.8 L1395.6,1116.1 L1397.6,1116.3 L1399.6,1116.6 L1401.6,1116.8 L1403.6,1117.0 L1405.6,1117.2 L1407.6,1117.5 L1409.6,1117.7 L1411.6,1117.9 L1413.6,1118.1 L1415.6,1118.3 L1417.6,1118.5 L1419.6,1118.7 L1421.6,1118.9 L1423.6,1119.0 L1425.6,1119.2 L1427.6,1119.4 L1429.6,1119.6 L1431.6,1119.7 L1433.6,1119.9 L1435.6,1120.1 L1437.6,1120.2 L1439.6,1120.4 L1441.6,1120.5 L1443.6,1120.7 L1445.6,1120.8 L1447.6,1120.9 L1449.6,1121.1 L1451.6,1121.2 L1453.6,1121.3 L1455.6,1121.5 L1457.6,1121.6 L1459.6,1121.7 L1461.6,1121.8 L1463.6,1121.9 L1465.6,1122.0 L1467.6,1122.1 L1469.6,1122.3 L1471.6,1122.4 L1473.6,1122.4 L1475.6,1122.5 L1477.6,1122.6 L1479.6,1122.7 L1481.6,1122.8 L1483.6,1122.9 L1485.6,1123.0 L1487.6,1123.1 L1489.6,1123.1 L1491.6,1123.2 L1493.6,1123.3 L1495.6,1123.4 L1497.6,1123.4 L1499.6,1123.5 L1501.6,1123.6 L1503.6,1123.6 L1505.6,1123.7 L1507.6,1123.7 L1509.6,1123.8 L1511.6,1123.8 L1513.6,1123.9 L1515.6,1124.0 L1517.6,1124.0 L1519.6,1124.0 L1521.6,1124.1 L1523.6,1124.1 L1525.6,1124.2 L1527.6,1124.2 L1529.6,1124.3 L1531.6,1124.3 L1533.6,1124.4 L1535.6,1124.4 L1537.6,1124.4 L1539.6,1124.5 L1541.6,1124.5 L1543.6,1124.5 L1545.6,1124.6 L1547.6,1124.6 L1549.6,1124.6 L1551.6,1124.7 L1553.6,1124.7 L1555.6,1124.7 L1557.6,1124.8 L1559.6,1124.8 L1561.6,1124.8 L1563.6,1124.9 L1565.6,1124.9 L1567.6,1124.9 L1569.6,1124.9 L1571.6,1125.0 L1573.6,1125.0 L1575.6,1125.0 L1577.6,1125.1 L1579.6,1125.1 L1581.6,1125.1 L1583.6,1125.2 L1585.6,1125.2 L1587.6,1125.2 L1589.6,1125.2 L1591.6,1125.3 L1593.6,1125.3 L1595.6,1125.3 L1597.6,1125.4 L1599.6,1125.4 L1601.6,1125.4 L1603.6,1125.5 L1605.6,1125.5 L1607.6,1125.6 L1609.6,1125.6 L1611.6,1125.6 L1613.6,1125.7 L1615.6,1125.7 L1617.6,1125.8 L1619.6,1125.8 L1621.6,1125.9 L1623.6,1125.9 L1625.6,1126.0 L1627.6,1126.0 L1629.6,1126.1 L1631.6,1126.1 L1633.6,1126.2 L1635.6,1126.2 L1637.6,1126.3 L1639.6,1126.3 L1641.6,1126.4 L1643.6,1126.5 L1645.6,1126.5 L1647.6,1126.6 L1649.6,1126.7 L1651.6,1126.8 L1653.6,1126.8 L1655.6,1126.9 L1657.6,1127.0 L1659.6,1127.1 L1661.6,1127.2 L1663.6,1127.2 L1665.6,1127.3 L1667.6,1127.4 L1669.6,1127.5 L1671.6,1127.6 L1673.6,1127.7 L1675.6,1127.8 L1677.6,1127.9" fill="none" stroke="#e020e0" stroke-width="7.5" stroke-linejoin="round" stroke-linecap="round"/>
</g>
<g stroke="#0a0a0a" stroke-width="2.8" stroke-dasharray="15.5,12" fill="none">
<line x1="990.5" y1="327.4" x2="990.5" y2="955"/>
</g>
<path d="M983.5,964.5 L997.5,964.5 L990.5,995 Z" fill="#0a0a0a"/>
<g class="leg" font-size="57.3" fill="#1e1e1e">
<line x1="229.5" y1="101.5" x2="361" y2="101.5" stroke="#7a801e" stroke-width="8"/>
<text x="373" y="120.0">FTO/Perovskite</text>
<line x1="229.5" y1="170.6" x2="361" y2="170.6" stroke="#000000" stroke-width="8"/>
<text x="373" y="189.4">FTO/S0/Perovskite</text>
<line x1="229.5" y1="239.7" x2="361" y2="239.7" stroke="#e8101e" stroke-width="8"/>
<text x="373" y="258.8">FTO/S1/Perovskite</text>
<line x1="229.5" y1="308.79999999999995" x2="361" y2="308.79999999999995" stroke="#1610b8" stroke-width="8"/>
<text x="373" y="328.2">FTO/S2/Perovskite</text>
<line x1="229.5" y1="377.9" x2="361" y2="377.9" stroke="#e818e8" stroke-width="8"/>
<text x="373" y="397.6">FTO/S3/Perovskite</text>
</g>
<g class="lab" font-size="54.5" fill="#111">
<text x="177.6" y="1220" text-anchor="middle">650</text>
<text x="553.0" y="1220" text-anchor="middle">700</text>
<text x="928.5" y="1220" text-anchor="middle">750</text>
<text x="1303.9" y="1220" text-anchor="middle">800</text>
<text x="1679.3" y="1220" text-anchor="middle">850</text>
</g>
<text class="lab" x="983.3" y="1334.5" font-size="63" text-anchor="middle" textLength="526" lengthAdjust="spacing" fill="#111">Wavelength (nm)</text>
<text class="lab" transform="translate(76.7,567.5) rotate(-90)" x="0" y="0" font-size="71" text-anchor="middle" textLength="589" lengthAdjust="spacing" fill="#111">PL intensity (a.u.)</text>
</svg>
</body></html>
